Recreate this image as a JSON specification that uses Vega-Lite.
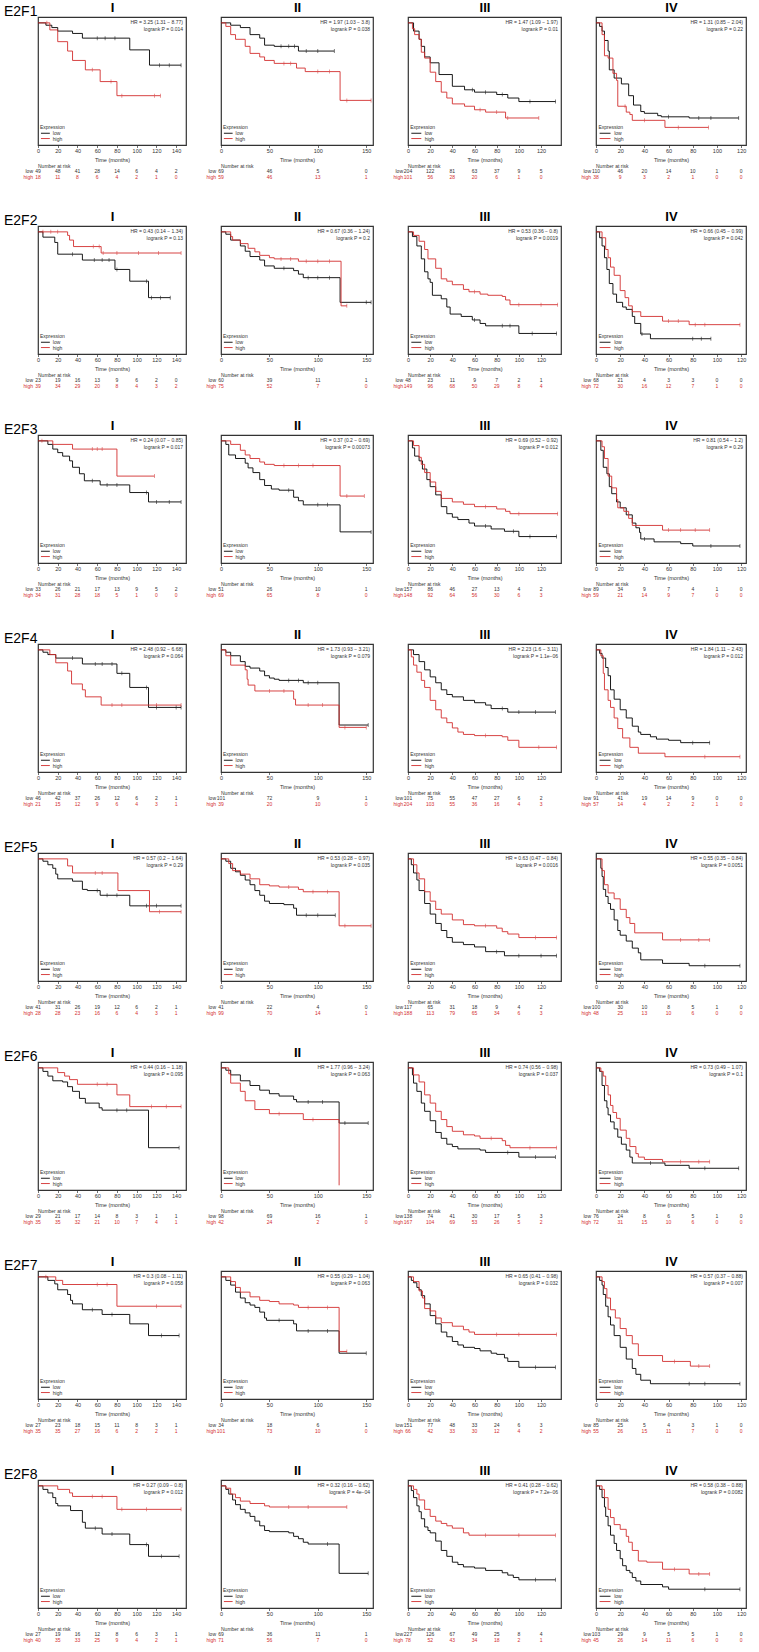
{"$schema":"https://vega.github.io/schema/vega-lite/v6.json","padding":{"left":3,"top":0,"right":0,"bottom":0},"background":"white","spacing":18,
"config":{"font":"Liberation Sans","view":{"stroke":"#333333","strokeWidth":1.2},
"axis":{"grid":false,"domain":false,"tickSize":2.5,"tickColor":"#333","tickWidth":0.7,"labelFontSize":5.5,"labelColor":"#333","labelPadding":1,"labelFlush":false,"titleFontSize":5.5,"titleFontWeight":"normal","titleColor":"#333"},
"axisX":{"titlePadding":3},"axisY":{"labelAngle":-90,"labelAlign":"center","labelBaseline":"bottom","titlePadding":5},
"text":{"fontSize":5,"color":"#333"},"line":{"interpolate":"step-after","strokeWidth":0.9},"tick":{"thickness":0.7,"size":4},"rule":{"strokeWidth":0.9}},
"data":{"values":[
{"g":1,"s":1,"n":"E2F1","hr":"HR = 3.25 (1.31 − 8.77)\nlogrank P = 0.014"},
{"g":1,"s":2,"n":"E2F1","hr":"HR = 1.97 (1.03 − 3.8)\nlogrank P = 0.038"},
{"g":1,"s":3,"n":"E2F1","hr":"HR = 1.47 (1.09 − 1.97)\nlogrank P = 0.01"},
{"g":1,"s":4,"n":"E2F1","hr":"HR = 1.31 (0.85 − 2.04)\nlogrank P = 0.22"},
{"g":2,"s":1,"n":"E2F2","hr":"HR = 0.43 (0.14 − 1.34)\nlogrank P = 0.13"},
{"g":2,"s":2,"n":"E2F2","hr":"HR = 0.67 (0.36 − 1.24)\nlogrank P = 0.2"},
{"g":2,"s":3,"n":"E2F2","hr":"HR = 0.53 (0.36 − 0.8)\nlogrank P = 0.0019"},
{"g":2,"s":4,"n":"E2F2","hr":"HR = 0.66 (0.45 − 0.99)\nlogrank P = 0.042"},
{"g":3,"s":1,"n":"E2F3","hr":"HR = 0.24 (0.07 − 0.85)\nlogrank P = 0.017"},
{"g":3,"s":2,"n":"E2F3","hr":"HR = 0.37 (0.2 − 0.69)\nlogrank P = 0.00073"},
{"g":3,"s":3,"n":"E2F3","hr":"HR = 0.69 (0.52 − 0.92)\nlogrank P = 0.012"},
{"g":3,"s":4,"n":"E2F3","hr":"HR = 0.81 (0.54 − 1.2)\nlogrank P = 0.29"},
{"g":4,"s":1,"n":"E2F4","hr":"HR = 2.48 (0.92 − 6.68)\nlogrank P = 0.064"},
{"g":4,"s":2,"n":"E2F4","hr":"HR = 1.73 (0.93 − 3.21)\nlogrank P = 0.079"},
{"g":4,"s":3,"n":"E2F4","hr":"HR = 2.23 (1.6 − 3.11)\nlogrank P = 1.1e−06"},
{"g":4,"s":4,"n":"E2F4","hr":"HR = 1.84 (1.11 − 2.43)\nlogrank P = 0.012"},
{"g":5,"s":1,"n":"E2F5","hr":"HR = 0.57 (0.2 − 1.64)\nlogrank P = 0.29"},
{"g":5,"s":2,"n":"E2F5","hr":"HR = 0.53 (0.28 − 0.97)\nlogrank P = 0.035"},
{"g":5,"s":3,"n":"E2F5","hr":"HR = 0.63 (0.47 − 0.84)\nlogrank P = 0.0016"},
{"g":5,"s":4,"n":"E2F5","hr":"HR = 0.55 (0.35 − 0.84)\nlogrank P = 0.0051"},
{"g":6,"s":1,"n":"E2F6","hr":"HR = 0.44 (0.16 − 1.18)\nlogrank P = 0.095"},
{"g":6,"s":2,"n":"E2F6","hr":"HR = 1.77 (0.96 − 3.24)\nlogrank P = 0.063"},
{"g":6,"s":3,"n":"E2F6","hr":"HR = 0.74 (0.56 − 0.98)\nlogrank P = 0.037"},
{"g":6,"s":4,"n":"E2F6","hr":"HR = 0.73 (0.49 − 1.07)\nlogrank P = 0.1"},
{"g":7,"s":1,"n":"E2F7","hr":"HR = 0.3 (0.08 − 1.11)\nlogrank P = 0.058"},
{"g":7,"s":2,"n":"E2F7","hr":"HR = 0.55 (0.29 − 1.04)\nlogrank P = 0.063"},
{"g":7,"s":3,"n":"E2F7","hr":"HR = 0.65 (0.41 − 0.98)\nlogrank P = 0.032"},
{"g":7,"s":4,"n":"E2F7","hr":"HR = 0.57 (0.37 − 0.88)\nlogrank P = 0.007"},
{"g":8,"s":1,"n":"E2F8","hr":"HR = 0.27 (0.09 − 0.8)\nlogrank P = 0.012"},
{"g":8,"s":2,"n":"E2F8","hr":"HR = 0.32 (0.16 − 0.62)\nlogrank P = 4e−04"},
{"g":8,"s":3,"n":"E2F8","hr":"HR = 0.41 (0.28 − 0.62)\nlogrank P = 7.2e−06"},
{"g":8,"s":4,"n":"E2F8","hr":"HR = 0.58 (0.38 − 0.88)\nlogrank P = 0.0082"},
{"g":1,"s":1,"t":0,"lo":49,"hi":18},{"g":1,"s":1,"t":20,"lo":48,"hi":11},{"g":1,"s":1,"t":40,"lo":41,"hi":8},{"g":1,"s":1,"t":60,"lo":28,"hi":6},{"g":1,"s":1,"t":80,"lo":14,"hi":4},{"g":1,"s":1,"t":100,"lo":6,"hi":2},{"g":1,"s":1,"t":120,"lo":4,"hi":1},{"g":1,"s":1,"t":140,"lo":2,"hi":0},
{"g":1,"s":2,"t":0,"lo":69,"hi":59},{"g":1,"s":2,"t":50,"lo":46,"hi":46},{"g":1,"s":2,"t":100,"lo":5,"hi":13},{"g":1,"s":2,"t":150,"lo":0,"hi":1},
{"g":1,"s":3,"t":0,"lo":204,"hi":101},{"g":1,"s":3,"t":20,"lo":122,"hi":56},{"g":1,"s":3,"t":40,"lo":81,"hi":28},{"g":1,"s":3,"t":60,"lo":63,"hi":20},{"g":1,"s":3,"t":80,"lo":37,"hi":6},{"g":1,"s":3,"t":100,"lo":9,"hi":1},{"g":1,"s":3,"t":120,"lo":5,"hi":0},
{"g":1,"s":4,"t":0,"lo":110,"hi":38},{"g":1,"s":4,"t":20,"lo":46,"hi":9},{"g":1,"s":4,"t":40,"lo":20,"hi":3},{"g":1,"s":4,"t":60,"lo":14,"hi":2},{"g":1,"s":4,"t":80,"lo":10,"hi":1},{"g":1,"s":4,"t":100,"lo":1,"hi":0},{"g":1,"s":4,"t":120,"lo":0,"hi":0},
{"g":2,"s":1,"t":0,"lo":23,"hi":39},{"g":2,"s":1,"t":20,"lo":19,"hi":34},{"g":2,"s":1,"t":40,"lo":16,"hi":29},{"g":2,"s":1,"t":60,"lo":13,"hi":20},{"g":2,"s":1,"t":80,"lo":9,"hi":8},{"g":2,"s":1,"t":100,"lo":6,"hi":4},{"g":2,"s":1,"t":120,"lo":2,"hi":3},{"g":2,"s":1,"t":140,"lo":0,"hi":2},
{"g":2,"s":2,"t":0,"lo":60,"hi":75},{"g":2,"s":2,"t":50,"lo":39,"hi":52},{"g":2,"s":2,"t":100,"lo":11,"hi":7},{"g":2,"s":2,"t":150,"lo":1,"hi":0},
{"g":2,"s":3,"t":0,"lo":48,"hi":149},{"g":2,"s":3,"t":20,"lo":23,"hi":96},{"g":2,"s":3,"t":40,"lo":11,"hi":68},{"g":2,"s":3,"t":60,"lo":9,"hi":50},{"g":2,"s":3,"t":80,"lo":7,"hi":29},{"g":2,"s":3,"t":100,"lo":2,"hi":8},{"g":2,"s":3,"t":120,"lo":1,"hi":4},
{"g":2,"s":4,"t":0,"lo":68,"hi":72},{"g":2,"s":4,"t":20,"lo":21,"hi":30},{"g":2,"s":4,"t":40,"lo":4,"hi":16},{"g":2,"s":4,"t":60,"lo":3,"hi":12},{"g":2,"s":4,"t":80,"lo":3,"hi":7},{"g":2,"s":4,"t":100,"lo":0,"hi":1},{"g":2,"s":4,"t":120,"lo":0,"hi":0},
{"g":3,"s":1,"t":0,"lo":33,"hi":34},{"g":3,"s":1,"t":20,"lo":26,"hi":31},{"g":3,"s":1,"t":40,"lo":21,"hi":28},{"g":3,"s":1,"t":60,"lo":17,"hi":18},{"g":3,"s":1,"t":80,"lo":13,"hi":5},{"g":3,"s":1,"t":100,"lo":9,"hi":1},{"g":3,"s":1,"t":120,"lo":5,"hi":0},{"g":3,"s":1,"t":140,"lo":2,"hi":0},
{"g":3,"s":2,"t":0,"lo":51,"hi":69},{"g":3,"s":2,"t":50,"lo":26,"hi":65},{"g":3,"s":2,"t":100,"lo":10,"hi":8},{"g":3,"s":2,"t":150,"lo":1,"hi":0},
{"g":3,"s":3,"t":0,"lo":157,"hi":148},{"g":3,"s":3,"t":20,"lo":86,"hi":92},{"g":3,"s":3,"t":40,"lo":46,"hi":64},{"g":3,"s":3,"t":60,"lo":27,"hi":56},{"g":3,"s":3,"t":80,"lo":13,"hi":30},{"g":3,"s":3,"t":100,"lo":4,"hi":6},{"g":3,"s":3,"t":120,"lo":2,"hi":3},
{"g":3,"s":4,"t":0,"lo":89,"hi":59},{"g":3,"s":4,"t":20,"lo":34,"hi":21},{"g":3,"s":4,"t":40,"lo":9,"hi":14},{"g":3,"s":4,"t":60,"lo":7,"hi":9},{"g":3,"s":4,"t":80,"lo":4,"hi":7},{"g":3,"s":4,"t":100,"lo":1,"hi":0},{"g":3,"s":4,"t":120,"lo":0,"hi":0},
{"g":4,"s":1,"t":0,"lo":46,"hi":21},{"g":4,"s":1,"t":20,"lo":42,"hi":15},{"g":4,"s":1,"t":40,"lo":37,"hi":12},{"g":4,"s":1,"t":60,"lo":26,"hi":9},{"g":4,"s":1,"t":80,"lo":12,"hi":6},{"g":4,"s":1,"t":100,"lo":6,"hi":4},{"g":4,"s":1,"t":120,"lo":2,"hi":3},{"g":4,"s":1,"t":140,"lo":1,"hi":1},
{"g":4,"s":2,"t":0,"lo":101,"hi":39},{"g":4,"s":2,"t":50,"lo":72,"hi":20},{"g":4,"s":2,"t":100,"lo":9,"hi":10},{"g":4,"s":2,"t":150,"lo":1,"hi":0},
{"g":4,"s":3,"t":0,"lo":101,"hi":204},{"g":4,"s":3,"t":20,"lo":75,"hi":103},{"g":4,"s":3,"t":40,"lo":55,"hi":55},{"g":4,"s":3,"t":60,"lo":47,"hi":36},{"g":4,"s":3,"t":80,"lo":27,"hi":16},{"g":4,"s":3,"t":100,"lo":6,"hi":4},{"g":4,"s":3,"t":120,"lo":2,"hi":3},
{"g":4,"s":4,"t":0,"lo":91,"hi":57},{"g":4,"s":4,"t":20,"lo":41,"hi":14},{"g":4,"s":4,"t":40,"lo":19,"hi":4},{"g":4,"s":4,"t":60,"lo":14,"hi":2},{"g":4,"s":4,"t":80,"lo":9,"hi":2},{"g":4,"s":4,"t":100,"lo":0,"hi":1},{"g":4,"s":4,"t":120,"lo":0,"hi":0},
{"g":5,"s":1,"t":0,"lo":41,"hi":28},{"g":5,"s":1,"t":20,"lo":31,"hi":28},{"g":5,"s":1,"t":40,"lo":26,"hi":23},{"g":5,"s":1,"t":60,"lo":19,"hi":16},{"g":5,"s":1,"t":80,"lo":12,"hi":6},{"g":5,"s":1,"t":100,"lo":6,"hi":4},{"g":5,"s":1,"t":120,"lo":2,"hi":3},{"g":5,"s":1,"t":140,"lo":1,"hi":1},
{"g":5,"s":2,"t":0,"lo":41,"hi":99},{"g":5,"s":2,"t":50,"lo":22,"hi":70},{"g":5,"s":2,"t":100,"lo":4,"hi":14},{"g":5,"s":2,"t":150,"lo":0,"hi":1},
{"g":5,"s":3,"t":0,"lo":117,"hi":188},{"g":5,"s":3,"t":20,"lo":65,"hi":113},{"g":5,"s":3,"t":40,"lo":31,"hi":79},{"g":5,"s":3,"t":60,"lo":18,"hi":65},{"g":5,"s":3,"t":80,"lo":9,"hi":34},{"g":5,"s":3,"t":100,"lo":4,"hi":6},{"g":5,"s":3,"t":120,"lo":2,"hi":3},
{"g":5,"s":4,"t":0,"lo":100,"hi":48},{"g":5,"s":4,"t":20,"lo":30,"hi":25},{"g":5,"s":4,"t":40,"lo":10,"hi":13},{"g":5,"s":4,"t":60,"lo":8,"hi":10},{"g":5,"s":4,"t":80,"lo":5,"hi":6},{"g":5,"s":4,"t":100,"lo":1,"hi":0},{"g":5,"s":4,"t":120,"lo":0,"hi":0},
{"g":6,"s":1,"t":0,"lo":29,"hi":35},{"g":6,"s":1,"t":20,"lo":21,"hi":35},{"g":6,"s":1,"t":40,"lo":17,"hi":32},{"g":6,"s":1,"t":60,"lo":14,"hi":21},{"g":6,"s":1,"t":80,"lo":8,"hi":10},{"g":6,"s":1,"t":100,"lo":3,"hi":7},{"g":6,"s":1,"t":120,"lo":1,"hi":4},{"g":6,"s":1,"t":140,"lo":1,"hi":1},
{"g":6,"s":2,"t":0,"lo":98,"hi":42},{"g":6,"s":2,"t":50,"lo":69,"hi":24},{"g":6,"s":2,"t":100,"lo":16,"hi":2},{"g":6,"s":2,"t":150,"lo":1,"hi":0},
{"g":6,"s":3,"t":0,"lo":138,"hi":167},{"g":6,"s":3,"t":20,"lo":74,"hi":104},{"g":6,"s":3,"t":40,"lo":41,"hi":69},{"g":6,"s":3,"t":60,"lo":30,"hi":53},{"g":6,"s":3,"t":80,"lo":17,"hi":26},{"g":6,"s":3,"t":100,"lo":5,"hi":5},{"g":6,"s":3,"t":120,"lo":3,"hi":2},
{"g":6,"s":4,"t":0,"lo":76,"hi":72},{"g":6,"s":4,"t":20,"lo":24,"hi":31},{"g":6,"s":4,"t":40,"lo":8,"hi":15},{"g":6,"s":4,"t":60,"lo":6,"hi":10},{"g":6,"s":4,"t":80,"lo":5,"hi":6},{"g":6,"s":4,"t":100,"lo":1,"hi":0},{"g":6,"s":4,"t":120,"lo":0,"hi":0},
{"g":7,"s":1,"t":0,"lo":27,"hi":35},{"g":7,"s":1,"t":20,"lo":23,"hi":35},{"g":7,"s":1,"t":40,"lo":18,"hi":27},{"g":7,"s":1,"t":60,"lo":15,"hi":16},{"g":7,"s":1,"t":80,"lo":11,"hi":6},{"g":7,"s":1,"t":100,"lo":8,"hi":2},{"g":7,"s":1,"t":120,"lo":3,"hi":2},{"g":7,"s":1,"t":140,"lo":1,"hi":1},
{"g":7,"s":2,"t":0,"lo":34,"hi":101},{"g":7,"s":2,"t":50,"lo":18,"hi":73},{"g":7,"s":2,"t":100,"lo":6,"hi":10},{"g":7,"s":2,"t":150,"lo":1,"hi":0},
{"g":7,"s":3,"t":0,"lo":151,"hi":66},{"g":7,"s":3,"t":20,"lo":77,"hi":42},{"g":7,"s":3,"t":40,"lo":48,"hi":33},{"g":7,"s":3,"t":60,"lo":33,"hi":30},{"g":7,"s":3,"t":80,"lo":24,"hi":12},{"g":7,"s":3,"t":100,"lo":6,"hi":4},{"g":7,"s":3,"t":120,"lo":3,"hi":2},
{"g":7,"s":4,"t":0,"lo":85,"hi":55},{"g":7,"s":4,"t":20,"lo":25,"hi":26},{"g":7,"s":4,"t":40,"lo":5,"hi":15},{"g":7,"s":4,"t":60,"lo":4,"hi":11},{"g":7,"s":4,"t":80,"lo":3,"hi":7},{"g":7,"s":4,"t":100,"lo":1,"hi":0},{"g":7,"s":4,"t":120,"lo":0,"hi":0},
{"g":8,"s":1,"t":0,"lo":27,"hi":40},{"g":8,"s":1,"t":20,"lo":19,"hi":35},{"g":8,"s":1,"t":40,"lo":16,"hi":33},{"g":8,"s":1,"t":60,"lo":12,"hi":25},{"g":8,"s":1,"t":80,"lo":8,"hi":9},{"g":8,"s":1,"t":100,"lo":6,"hi":4},{"g":8,"s":1,"t":120,"lo":3,"hi":2},{"g":8,"s":1,"t":140,"lo":1,"hi":1},
{"g":8,"s":2,"t":0,"lo":69,"hi":71},{"g":8,"s":2,"t":50,"lo":36,"hi":56},{"g":8,"s":2,"t":100,"lo":11,"hi":7},{"g":8,"s":2,"t":150,"lo":1,"hi":0},
{"g":8,"s":3,"t":0,"lo":227,"hi":78},{"g":8,"s":3,"t":20,"lo":126,"hi":52},{"g":8,"s":3,"t":40,"lo":67,"hi":43},{"g":8,"s":3,"t":60,"lo":49,"hi":34},{"g":8,"s":3,"t":80,"lo":25,"hi":18},{"g":8,"s":3,"t":100,"lo":8,"hi":2},{"g":8,"s":3,"t":120,"lo":4,"hi":1},
{"g":8,"s":4,"t":0,"lo":103,"hi":45},{"g":8,"s":4,"t":20,"lo":29,"hi":26},{"g":8,"s":4,"t":40,"lo":9,"hi":14},{"g":8,"s":4,"t":60,"lo":5,"hi":11},{"g":8,"s":4,"t":80,"lo":5,"hi":6},{"g":8,"s":4,"t":100,"lo":1,"hi":0},{"g":8,"s":4,"t":120,"lo":0,"hi":0},

{"g":1,"s":1,"e":"low","t":0,"p":1},{"g":1,"s":1,"e":"low","t":8,"p":0.98},{"g":1,"s":1,"e":"low","t":14,"p":0.96},{"g":1,"s":1,"e":"low","t":20,"p":0.93},{"g":1,"s":1,"e":"low","t":35,"p":0.91},{"g":1,"s":1,"e":"low","t":45,"p":0.87},{"g":1,"s":1,"e":"low","t":60,"p":0.87,"c":1},{"g":1,"s":1,"e":"low","t":68,"p":0.87,"c":1},{"g":1,"s":1,"e":"low","t":78,"p":0.87,"c":1},{"g":1,"s":1,"e":"low","t":93,"p":0.77},{"g":1,"s":1,"e":"low","t":113,"p":0.64},{"g":1,"s":1,"e":"low","t":123,"p":0.64,"c":1},{"g":1,"s":1,"e":"low","t":133,"p":0.64,"c":1},{"g":1,"s":1,"e":"low","t":145,"p":0.64,"c":1},
{"g":1,"s":1,"e":"high","t":0,"p":1},{"g":1,"s":1,"e":"high","t":9,"p":1,"c":1},{"g":1,"s":1,"e":"high","t":12,"p":0.94},{"g":1,"s":1,"e":"high","t":20,"p":0.84},{"g":1,"s":1,"e":"high","t":30,"p":0.76},{"g":1,"s":1,"e":"high","t":35,"p":0.68},{"g":1,"s":1,"e":"high","t":48,"p":0.6},{"g":1,"s":1,"e":"high","t":55,"p":0.6,"c":1},{"g":1,"s":1,"e":"high","t":63,"p":0.5},{"g":1,"s":1,"e":"high","t":74,"p":0.5,"c":1},{"g":1,"s":1,"e":"high","t":80,"p":0.38},{"g":1,"s":1,"e":"high","t":85,"p":0.38,"c":1},{"g":1,"s":1,"e":"high","t":118,"p":0.38,"c":1},{"g":1,"s":1,"e":"high","t":124,"p":0.38,"c":1},
{"g":1,"s":2,"e":"low","t":0,"p":1},{"g":1,"s":2,"e":"low","t":10,"p":0.98},{"g":1,"s":2,"e":"low","t":20,"p":0.96},{"g":1,"s":2,"e":"low","t":30,"p":0.9},{"g":1,"s":2,"e":"low","t":40,"p":0.87},{"g":1,"s":2,"e":"low","t":45,"p":0.81},{"g":1,"s":2,"e":"low","t":55,"p":0.8},{"g":1,"s":2,"e":"low","t":62,"p":0.8,"c":1},{"g":1,"s":2,"e":"low","t":70,"p":0.8,"c":1},{"g":1,"s":2,"e":"low","t":76,"p":0.8,"c":1},{"g":1,"s":2,"e":"low","t":80,"p":0.76},{"g":1,"s":2,"e":"low","t":88,"p":0.76,"c":1},{"g":1,"s":2,"e":"low","t":100,"p":0.76,"c":1},{"g":1,"s":2,"e":"low","t":117,"p":0.76,"c":1},
{"g":1,"s":2,"e":"high","t":0,"p":1},{"g":1,"s":2,"e":"high","t":5,"p":0.97},{"g":1,"s":2,"e":"high","t":10,"p":0.9},{"g":1,"s":2,"e":"high","t":15,"p":0.86},{"g":1,"s":2,"e":"high","t":25,"p":0.8},{"g":1,"s":2,"e":"high","t":30,"p":0.74},{"g":1,"s":2,"e":"high","t":40,"p":0.71},{"g":1,"s":2,"e":"high","t":45,"p":0.68},{"g":1,"s":2,"e":"high","t":55,"p":0.655},{"g":1,"s":2,"e":"high","t":65,"p":0.655,"c":1},{"g":1,"s":2,"e":"high","t":72,"p":0.655,"c":1},{"g":1,"s":2,"e":"high","t":78,"p":0.615},{"g":1,"s":2,"e":"high","t":87,"p":0.585},{"g":1,"s":2,"e":"high","t":100,"p":0.585,"c":1},{"g":1,"s":2,"e":"high","t":112,"p":0.585,"c":1},{"g":1,"s":2,"e":"high","t":123,"p":0.34},{"g":1,"s":2,"e":"high","t":130,"p":0.34,"c":1},{"g":1,"s":2,"e":"high","t":155,"p":0.34,"c":1},
{"g":1,"s":3,"e":"low","t":0,"p":1},{"g":1,"s":3,"e":"low","t":5,"p":0.93},{"g":1,"s":3,"e":"low","t":10,"p":0.86},{"g":1,"s":3,"e":"low","t":12,"p":0.8},{"g":1,"s":3,"e":"low","t":15,"p":0.71},{"g":1,"s":3,"e":"low","t":20,"p":0.66},{"g":1,"s":3,"e":"low","t":28,"p":0.56},{"g":1,"s":3,"e":"low","t":40,"p":0.46},{"g":1,"s":3,"e":"low","t":51,"p":0.43},{"g":1,"s":3,"e":"low","t":58,"p":0.43,"c":1},{"g":1,"s":3,"e":"low","t":60,"p":0.41},{"g":1,"s":3,"e":"low","t":70,"p":0.41,"c":1},{"g":1,"s":3,"e":"low","t":80,"p":0.39},{"g":1,"s":3,"e":"low","t":85,"p":0.39,"c":1},{"g":1,"s":3,"e":"low","t":90,"p":0.36},{"g":1,"s":3,"e":"low","t":100,"p":0.33},{"g":1,"s":3,"e":"low","t":110,"p":0.33,"c":1},{"g":1,"s":3,"e":"low","t":133,"p":0.33,"c":1},
{"g":1,"s":3,"e":"high","t":0,"p":1},{"g":1,"s":3,"e":"high","t":4,"p":0.95},{"g":1,"s":3,"e":"high","t":6,"p":0.9},{"g":1,"s":3,"e":"high","t":10,"p":0.86},{"g":1,"s":3,"e":"high","t":12,"p":0.75},{"g":1,"s":3,"e":"high","t":15,"p":0.7},{"g":1,"s":3,"e":"high","t":20,"p":0.58},{"g":1,"s":3,"e":"high","t":25,"p":0.5},{"g":1,"s":3,"e":"high","t":30,"p":0.41},{"g":1,"s":3,"e":"high","t":35,"p":0.36},{"g":1,"s":3,"e":"high","t":40,"p":0.31},{"g":1,"s":3,"e":"high","t":51,"p":0.29},{"g":1,"s":3,"e":"high","t":60,"p":0.26},{"g":1,"s":3,"e":"high","t":65,"p":0.26,"c":1},{"g":1,"s":3,"e":"high","t":70,"p":0.24},{"g":1,"s":3,"e":"high","t":80,"p":0.24,"c":1},{"g":1,"s":3,"e":"high","t":88,"p":0.19},{"g":1,"s":3,"e":"high","t":90,"p":0.19,"c":1},{"g":1,"s":3,"e":"high","t":118,"p":0.19,"c":1},
{"g":1,"s":4,"e":"low","t":0,"p":1},{"g":1,"s":4,"e":"low","t":3,"p":0.97},{"g":1,"s":4,"e":"low","t":5,"p":0.93},{"g":1,"s":4,"e":"low","t":7,"p":0.85},{"g":1,"s":4,"e":"low","t":10,"p":0.76},{"g":1,"s":4,"e":"low","t":11,"p":0.6},{"g":1,"s":4,"e":"low","t":15,"p":0.53},{"g":1,"s":4,"e":"low","t":21,"p":0.48},{"g":1,"s":4,"e":"low","t":27,"p":0.38},{"g":1,"s":4,"e":"low","t":31,"p":0.3},{"g":1,"s":4,"e":"low","t":37,"p":0.245},{"g":1,"s":4,"e":"low","t":40,"p":0.23},{"g":1,"s":4,"e":"low","t":51,"p":0.21},{"g":1,"s":4,"e":"low","t":54,"p":0.2},{"g":1,"s":4,"e":"low","t":60,"p":0.2,"c":1},{"g":1,"s":4,"e":"low","t":77,"p":0.19},{"g":1,"s":4,"e":"low","t":85,"p":0.19,"c":1},{"g":1,"s":4,"e":"low","t":95,"p":0.19,"c":1},{"g":1,"s":4,"e":"low","t":118,"p":0.19,"c":1},
{"g":1,"s":4,"e":"high","t":0,"p":1},{"g":1,"s":4,"e":"high","t":5,"p":0.9},{"g":1,"s":4,"e":"high","t":7,"p":0.72},{"g":1,"s":4,"e":"high","t":10,"p":0.7},{"g":1,"s":4,"e":"high","t":14,"p":0.57},{"g":1,"s":4,"e":"high","t":17,"p":0.51},{"g":1,"s":4,"e":"high","t":18,"p":0.29},{"g":1,"s":4,"e":"high","t":24,"p":0.29,"c":1},{"g":1,"s":4,"e":"high","t":25,"p":0.24},{"g":1,"s":4,"e":"high","t":28,"p":0.22},{"g":1,"s":4,"e":"high","t":30,"p":0.17},{"g":1,"s":4,"e":"high","t":40,"p":0.17,"c":1},{"g":1,"s":4,"e":"high","t":57,"p":0.11},{"g":1,"s":4,"e":"high","t":68,"p":0.11,"c":1},{"g":1,"s":4,"e":"high","t":93,"p":0.11,"c":1},

{"g":2,"s":1,"e":"low","t":0,"p":1},{"g":2,"s":1,"e":"low","t":5,"p":0.955},{"g":2,"s":1,"e":"low","t":17,"p":0.91},{"g":2,"s":1,"e":"low","t":20,"p":0.81},{"g":2,"s":1,"e":"low","t":35,"p":0.81,"c":1},{"g":2,"s":1,"e":"low","t":45,"p":0.76},{"g":2,"s":1,"e":"low","t":57,"p":0.76,"c":1},{"g":2,"s":1,"e":"low","t":65,"p":0.76,"c":1},{"g":2,"s":1,"e":"low","t":72,"p":0.76,"c":1},{"g":2,"s":1,"e":"low","t":78,"p":0.68},{"g":2,"s":1,"e":"low","t":80,"p":0.68,"c":1},{"g":2,"s":1,"e":"low","t":93,"p":0.58},{"g":2,"s":1,"e":"low","t":110,"p":0.58,"c":1},{"g":2,"s":1,"e":"low","t":112,"p":0.44},{"g":2,"s":1,"e":"low","t":115,"p":0.44,"c":1},{"g":2,"s":1,"e":"low","t":124,"p":0.44,"c":1},{"g":2,"s":1,"e":"low","t":134,"p":0.44,"c":1},
{"g":2,"s":1,"e":"high","t":0,"p":1},{"g":2,"s":1,"e":"high","t":5,"p":1,"c":1},{"g":2,"s":1,"e":"high","t":13,"p":1,"c":1},{"g":2,"s":1,"e":"high","t":20,"p":1,"c":1},{"g":2,"s":1,"e":"high","t":30,"p":0.97},{"g":2,"s":1,"e":"high","t":32,"p":0.93},{"g":2,"s":1,"e":"high","t":36,"p":0.875},{"g":2,"s":1,"e":"high","t":56,"p":0.875,"c":1},{"g":2,"s":1,"e":"high","t":62,"p":0.875,"c":1},{"g":2,"s":1,"e":"high","t":64,"p":0.82},{"g":2,"s":1,"e":"high","t":66,"p":0.82,"c":1},{"g":2,"s":1,"e":"high","t":80,"p":0.82,"c":1},{"g":2,"s":1,"e":"high","t":102,"p":0.82,"c":1},{"g":2,"s":1,"e":"high","t":122,"p":0.82,"c":1},{"g":2,"s":1,"e":"high","t":145,"p":0.82,"c":1},
{"g":2,"s":2,"e":"low","t":0,"p":1},{"g":2,"s":2,"e":"low","t":5,"p":0.98},{"g":2,"s":2,"e":"low","t":10,"p":0.93},{"g":2,"s":2,"e":"low","t":20,"p":0.88},{"g":2,"s":2,"e":"low","t":25,"p":0.835},{"g":2,"s":2,"e":"low","t":30,"p":0.79},{"g":2,"s":2,"e":"low","t":40,"p":0.76},{"g":2,"s":2,"e":"low","t":45,"p":0.71},{"g":2,"s":2,"e":"low","t":55,"p":0.69},{"g":2,"s":2,"e":"low","t":65,"p":0.69,"c":1},{"g":2,"s":2,"e":"low","t":75,"p":0.67},{"g":2,"s":2,"e":"low","t":80,"p":0.64},{"g":2,"s":2,"e":"low","t":85,"p":0.61},{"g":2,"s":2,"e":"low","t":90,"p":0.61,"c":1},{"g":2,"s":2,"e":"low","t":100,"p":0.61,"c":1},{"g":2,"s":2,"e":"low","t":112,"p":0.61,"c":1},{"g":2,"s":2,"e":"low","t":123,"p":0.4},{"g":2,"s":2,"e":"low","t":150,"p":0.4,"c":1},{"g":2,"s":2,"e":"low","t":155,"p":0.4,"c":1},
{"g":2,"s":2,"e":"high","t":0,"p":1},{"g":2,"s":2,"e":"high","t":10,"p":0.96},{"g":2,"s":2,"e":"high","t":12,"p":0.93},{"g":2,"s":2,"e":"high","t":20,"p":0.9},{"g":2,"s":2,"e":"high","t":28,"p":0.86},{"g":2,"s":2,"e":"high","t":35,"p":0.83},{"g":2,"s":2,"e":"high","t":40,"p":0.8},{"g":2,"s":2,"e":"high","t":50,"p":0.78},{"g":2,"s":2,"e":"high","t":55,"p":0.77},{"g":2,"s":2,"e":"high","t":62,"p":0.77,"c":1},{"g":2,"s":2,"e":"high","t":72,"p":0.77,"c":1},{"g":2,"s":2,"e":"high","t":80,"p":0.75},{"g":2,"s":2,"e":"high","t":88,"p":0.75,"c":1},{"g":2,"s":2,"e":"high","t":100,"p":0.75,"c":1},{"g":2,"s":2,"e":"high","t":112,"p":0.75,"c":1},{"g":2,"s":2,"e":"high","t":124,"p":0.37},{"g":2,"s":2,"e":"high","t":130,"p":0.37,"c":1},
{"g":2,"s":3,"e":"low","t":0,"p":1},{"g":2,"s":3,"e":"low","t":4,"p":0.96},{"g":2,"s":3,"e":"low","t":8,"p":0.88},{"g":2,"s":3,"e":"low","t":12,"p":0.77},{"g":2,"s":3,"e":"low","t":15,"p":0.66},{"g":2,"s":3,"e":"low","t":18,"p":0.6},{"g":2,"s":3,"e":"low","t":20,"p":0.57},{"g":2,"s":3,"e":"low","t":22,"p":0.46},{"g":2,"s":3,"e":"low","t":30,"p":0.43},{"g":2,"s":3,"e":"low","t":35,"p":0.36},{"g":2,"s":3,"e":"low","t":38,"p":0.3},{"g":2,"s":3,"e":"low","t":48,"p":0.28},{"g":2,"s":3,"e":"low","t":58,"p":0.25},{"g":2,"s":3,"e":"low","t":60,"p":0.25,"c":1},{"g":2,"s":3,"e":"low","t":65,"p":0.22},{"g":2,"s":3,"e":"low","t":70,"p":0.2},{"g":2,"s":3,"e":"low","t":85,"p":0.2,"c":1},{"g":2,"s":3,"e":"low","t":92,"p":0.2,"c":1},{"g":2,"s":3,"e":"low","t":100,"p":0.135},{"g":2,"s":3,"e":"low","t":112,"p":0.135,"c":1},{"g":2,"s":3,"e":"low","t":134,"p":0.135,"c":1},
{"g":2,"s":3,"e":"high","t":0,"p":1},{"g":2,"s":3,"e":"high","t":5,"p":0.97},{"g":2,"s":3,"e":"high","t":10,"p":0.92},{"g":2,"s":3,"e":"high","t":15,"p":0.85},{"g":2,"s":3,"e":"high","t":18,"p":0.77},{"g":2,"s":3,"e":"high","t":25,"p":0.69},{"g":2,"s":3,"e":"high","t":30,"p":0.6},{"g":2,"s":3,"e":"high","t":35,"p":0.58},{"g":2,"s":3,"e":"high","t":40,"p":0.55},{"g":2,"s":3,"e":"high","t":50,"p":0.51},{"g":2,"s":3,"e":"high","t":55,"p":0.49},{"g":2,"s":3,"e":"high","t":60,"p":0.49,"c":1},{"g":2,"s":3,"e":"high","t":65,"p":0.47},{"g":2,"s":3,"e":"high","t":72,"p":0.46},{"g":2,"s":3,"e":"high","t":85,"p":0.45},{"g":2,"s":3,"e":"high","t":88,"p":0.42},{"g":2,"s":3,"e":"high","t":92,"p":0.38},{"g":2,"s":3,"e":"high","t":100,"p":0.38,"c":1},{"g":2,"s":3,"e":"high","t":120,"p":0.38,"c":1},{"g":2,"s":3,"e":"high","t":135,"p":0.38,"c":1},
{"g":2,"s":4,"e":"low","t":0,"p":1},{"g":2,"s":4,"e":"low","t":3,"p":0.95},{"g":2,"s":4,"e":"low","t":5,"p":0.88},{"g":2,"s":4,"e":"low","t":7,"p":0.78},{"g":2,"s":4,"e":"low","t":9,"p":0.68},{"g":2,"s":4,"e":"low","t":11,"p":0.56},{"g":2,"s":4,"e":"low","t":14,"p":0.47},{"g":2,"s":4,"e":"low","t":17,"p":0.4},{"g":2,"s":4,"e":"low","t":22,"p":0.36},{"g":2,"s":4,"e":"low","t":25,"p":0.34},{"g":2,"s":4,"e":"low","t":30,"p":0.28},{"g":2,"s":4,"e":"low","t":32,"p":0.22},{"g":2,"s":4,"e":"low","t":37,"p":0.13},{"g":2,"s":4,"e":"low","t":38,"p":0.13,"c":1},{"g":2,"s":4,"e":"low","t":45,"p":0.09},{"g":2,"s":4,"e":"low","t":80,"p":0.09,"c":1},{"g":2,"s":4,"e":"low","t":87,"p":0.09,"c":1},{"g":2,"s":4,"e":"low","t":95,"p":0.09,"c":1},
{"g":2,"s":4,"e":"high","t":0,"p":1},{"g":2,"s":4,"e":"high","t":5,"p":0.95},{"g":2,"s":4,"e":"high","t":8,"p":0.85},{"g":2,"s":4,"e":"high","t":10,"p":0.78},{"g":2,"s":4,"e":"high","t":12,"p":0.7},{"g":2,"s":4,"e":"high","t":15,"p":0.63},{"g":2,"s":4,"e":"high","t":20,"p":0.5},{"g":2,"s":4,"e":"high","t":24,"p":0.44},{"g":2,"s":4,"e":"high","t":27,"p":0.37},{"g":2,"s":4,"e":"high","t":30,"p":0.32},{"g":2,"s":4,"e":"high","t":37,"p":0.28},{"g":2,"s":4,"e":"high","t":55,"p":0.24},{"g":2,"s":4,"e":"high","t":60,"p":0.24,"c":1},{"g":2,"s":4,"e":"high","t":68,"p":0.24,"c":1},{"g":2,"s":4,"e":"high","t":77,"p":0.21},{"g":2,"s":4,"e":"high","t":82,"p":0.21,"c":1},{"g":2,"s":4,"e":"high","t":90,"p":0.21,"c":1},{"g":2,"s":4,"e":"high","t":119,"p":0.21,"c":1},

{"g":3,"s":1,"e":"low","t":0,"p":1},{"g":3,"s":1,"e":"low","t":10,"p":0.97},{"g":3,"s":1,"e":"low","t":15,"p":0.93},{"g":3,"s":1,"e":"low","t":20,"p":0.9},{"g":3,"s":1,"e":"low","t":25,"p":0.87},{"g":3,"s":1,"e":"low","t":32,"p":0.83},{"g":3,"s":1,"e":"low","t":35,"p":0.775},{"g":3,"s":1,"e":"low","t":42,"p":0.72},{"g":3,"s":1,"e":"low","t":47,"p":0.66},{"g":3,"s":1,"e":"low","t":55,"p":0.66,"c":1},{"g":3,"s":1,"e":"low","t":63,"p":0.625},{"g":3,"s":1,"e":"low","t":70,"p":0.625,"c":1},{"g":3,"s":1,"e":"low","t":80,"p":0.625,"c":1},{"g":3,"s":1,"e":"low","t":93,"p":0.56},{"g":3,"s":1,"e":"low","t":110,"p":0.56,"c":1},{"g":3,"s":1,"e":"low","t":112,"p":0.48},{"g":3,"s":1,"e":"low","t":120,"p":0.48,"c":1},{"g":3,"s":1,"e":"low","t":133,"p":0.48,"c":1},{"g":3,"s":1,"e":"low","t":145,"p":0.48,"c":1},
{"g":3,"s":1,"e":"high","t":0,"p":1},{"g":3,"s":1,"e":"high","t":4,"p":1,"c":1},{"g":3,"s":1,"e":"high","t":15,"p":0.97},{"g":3,"s":1,"e":"high","t":35,"p":0.93},{"g":3,"s":1,"e":"high","t":55,"p":0.93,"c":1},{"g":3,"s":1,"e":"high","t":60,"p":0.93,"c":1},{"g":3,"s":1,"e":"high","t":65,"p":0.93,"c":1},{"g":3,"s":1,"e":"high","t":80,"p":0.7},{"g":3,"s":1,"e":"high","t":118,"p":0.7,"c":1},
{"g":3,"s":2,"e":"low","t":0,"p":1},{"g":3,"s":2,"e":"low","t":5,"p":0.97},{"g":3,"s":2,"e":"low","t":8,"p":0.88},{"g":3,"s":2,"e":"low","t":15,"p":0.85},{"g":3,"s":2,"e":"low","t":25,"p":0.81},{"g":3,"s":2,"e":"low","t":28,"p":0.77},{"g":3,"s":2,"e":"low","t":33,"p":0.73},{"g":3,"s":2,"e":"low","t":40,"p":0.67},{"g":3,"s":2,"e":"low","t":45,"p":0.62},{"g":3,"s":2,"e":"low","t":52,"p":0.59},{"g":3,"s":2,"e":"low","t":60,"p":0.58},{"g":3,"s":2,"e":"low","t":70,"p":0.58,"c":1},{"g":3,"s":2,"e":"low","t":75,"p":0.52},{"g":3,"s":2,"e":"low","t":80,"p":0.49},{"g":3,"s":2,"e":"low","t":85,"p":0.455},{"g":3,"s":2,"e":"low","t":100,"p":0.455,"c":1},{"g":3,"s":2,"e":"low","t":110,"p":0.455,"c":1},{"g":3,"s":2,"e":"low","t":123,"p":0.225},{"g":3,"s":2,"e":"low","t":155,"p":0.225,"c":1},
{"g":3,"s":2,"e":"high","t":0,"p":1},{"g":3,"s":2,"e":"high","t":10,"p":0.97},{"g":3,"s":2,"e":"high","t":20,"p":0.92},{"g":3,"s":2,"e":"high","t":25,"p":0.88},{"g":3,"s":2,"e":"high","t":30,"p":0.85},{"g":3,"s":2,"e":"high","t":40,"p":0.82},{"g":3,"s":2,"e":"high","t":45,"p":0.8},{"g":3,"s":2,"e":"high","t":55,"p":0.79},{"g":3,"s":2,"e":"high","t":65,"p":0.79,"c":1},{"g":3,"s":2,"e":"high","t":80,"p":0.79,"c":1},{"g":3,"s":2,"e":"high","t":95,"p":0.79,"c":1},{"g":3,"s":2,"e":"high","t":123,"p":0.53},{"g":3,"s":2,"e":"high","t":130,"p":0.53,"c":1},{"g":3,"s":2,"e":"high","t":148,"p":0.53,"c":1},
{"g":3,"s":3,"e":"low","t":0,"p":1},{"g":3,"s":3,"e":"low","t":4,"p":0.94},{"g":3,"s":3,"e":"low","t":6,"p":0.87},{"g":3,"s":3,"e":"low","t":10,"p":0.83},{"g":3,"s":3,"e":"low","t":13,"p":0.76},{"g":3,"s":3,"e":"low","t":17,"p":0.67},{"g":3,"s":3,"e":"low","t":20,"p":0.61},{"g":3,"s":3,"e":"low","t":25,"p":0.54},{"g":3,"s":3,"e":"low","t":30,"p":0.44},{"g":3,"s":3,"e":"low","t":35,"p":0.38},{"g":3,"s":3,"e":"low","t":40,"p":0.35},{"g":3,"s":3,"e":"low","t":45,"p":0.33},{"g":3,"s":3,"e":"low","t":55,"p":0.3},{"g":3,"s":3,"e":"low","t":60,"p":0.275},{"g":3,"s":3,"e":"low","t":70,"p":0.275,"c":1},{"g":3,"s":3,"e":"low","t":75,"p":0.25},{"g":3,"s":3,"e":"low","t":87,"p":0.23},{"g":3,"s":3,"e":"low","t":95,"p":0.23,"c":1},{"g":3,"s":3,"e":"low","t":100,"p":0.185},{"g":3,"s":3,"e":"low","t":110,"p":0.185,"c":1},{"g":3,"s":3,"e":"low","t":134,"p":0.185,"c":1},
{"g":3,"s":3,"e":"high","t":0,"p":1},{"g":3,"s":3,"e":"high","t":5,"p":0.96},{"g":3,"s":3,"e":"high","t":10,"p":0.86},{"g":3,"s":3,"e":"high","t":12,"p":0.8},{"g":3,"s":3,"e":"high","t":15,"p":0.73},{"g":3,"s":3,"e":"high","t":20,"p":0.65},{"g":3,"s":3,"e":"high","t":25,"p":0.57},{"g":3,"s":3,"e":"high","t":30,"p":0.51},{"g":3,"s":3,"e":"high","t":40,"p":0.48},{"g":3,"s":3,"e":"high","t":50,"p":0.46},{"g":3,"s":3,"e":"high","t":60,"p":0.44},{"g":3,"s":3,"e":"high","t":70,"p":0.44,"c":1},{"g":3,"s":3,"e":"high","t":80,"p":0.42},{"g":3,"s":3,"e":"high","t":88,"p":0.4},{"g":3,"s":3,"e":"high","t":92,"p":0.38},{"g":3,"s":3,"e":"high","t":100,"p":0.38,"c":1},{"g":3,"s":3,"e":"high","t":135,"p":0.38,"c":1},
{"g":3,"s":4,"e":"low","t":0,"p":1},{"g":3,"s":4,"e":"low","t":4,"p":0.92},{"g":3,"s":4,"e":"low","t":6,"p":0.775},{"g":3,"s":4,"e":"low","t":9,"p":0.72},{"g":3,"s":4,"e":"low","t":11,"p":0.61},{"g":3,"s":4,"e":"low","t":13,"p":0.55},{"g":3,"s":4,"e":"low","t":17,"p":0.48},{"g":3,"s":4,"e":"low","t":20,"p":0.43},{"g":3,"s":4,"e":"low","t":25,"p":0.37},{"g":3,"s":4,"e":"low","t":30,"p":0.3},{"g":3,"s":4,"e":"low","t":33,"p":0.26},{"g":3,"s":4,"e":"low","t":36,"p":0.22},{"g":3,"s":4,"e":"low","t":37,"p":0.165},{"g":3,"s":4,"e":"low","t":40,"p":0.165,"c":1},{"g":3,"s":4,"e":"low","t":48,"p":0.14},{"g":3,"s":4,"e":"low","t":70,"p":0.125},{"g":3,"s":4,"e":"low","t":80,"p":0.105},{"g":3,"s":4,"e":"low","t":95,"p":0.105,"c":1},{"g":3,"s":4,"e":"low","t":119,"p":0.105,"c":1},
{"g":3,"s":4,"e":"high","t":0,"p":1},{"g":3,"s":4,"e":"high","t":5,"p":0.95},{"g":3,"s":4,"e":"high","t":7,"p":0.85},{"g":3,"s":4,"e":"high","t":10,"p":0.7},{"g":3,"s":4,"e":"high","t":13,"p":0.6},{"g":3,"s":4,"e":"high","t":17,"p":0.5},{"g":3,"s":4,"e":"high","t":18,"p":0.43},{"g":3,"s":4,"e":"high","t":23,"p":0.4},{"g":3,"s":4,"e":"high","t":27,"p":0.34},{"g":3,"s":4,"e":"high","t":30,"p":0.28},{"g":3,"s":4,"e":"high","t":55,"p":0.24},{"g":3,"s":4,"e":"high","t":60,"p":0.24,"c":1},{"g":3,"s":4,"e":"high","t":70,"p":0.24,"c":1},{"g":3,"s":4,"e":"high","t":82,"p":0.24,"c":1},{"g":3,"s":4,"e":"high","t":94,"p":0.24,"c":1},

{"g":4,"s":1,"e":"low","t":0,"p":1},{"g":4,"s":1,"e":"low","t":5,"p":0.98},{"g":4,"s":1,"e":"low","t":10,"p":0.96},{"g":4,"s":1,"e":"low","t":18,"p":0.93},{"g":4,"s":1,"e":"low","t":35,"p":0.93,"c":1},{"g":4,"s":1,"e":"low","t":45,"p":0.88},{"g":4,"s":1,"e":"low","t":58,"p":0.88,"c":1},{"g":4,"s":1,"e":"low","t":65,"p":0.88,"c":1},{"g":4,"s":1,"e":"low","t":75,"p":0.88,"c":1},{"g":4,"s":1,"e":"low","t":80,"p":0.8},{"g":4,"s":1,"e":"low","t":85,"p":0.8,"c":1},{"g":4,"s":1,"e":"low","t":93,"p":0.68},{"g":4,"s":1,"e":"low","t":110,"p":0.68,"c":1},{"g":4,"s":1,"e":"low","t":112,"p":0.51},{"g":4,"s":1,"e":"low","t":120,"p":0.51,"c":1},{"g":4,"s":1,"e":"low","t":140,"p":0.51,"c":1},{"g":4,"s":1,"e":"low","t":145,"p":0.51,"c":1},
{"g":4,"s":1,"e":"high","t":0,"p":1},{"g":4,"s":1,"e":"high","t":12,"p":0.96},{"g":4,"s":1,"e":"high","t":18,"p":0.89},{"g":4,"s":1,"e":"high","t":30,"p":0.82},{"g":4,"s":1,"e":"high","t":34,"p":0.71},{"g":4,"s":1,"e":"high","t":45,"p":0.66},{"g":4,"s":1,"e":"high","t":48,"p":0.6},{"g":4,"s":1,"e":"high","t":64,"p":0.53},{"g":4,"s":1,"e":"high","t":75,"p":0.53,"c":1},{"g":4,"s":1,"e":"high","t":85,"p":0.53,"c":1},{"g":4,"s":1,"e":"high","t":120,"p":0.53,"c":1},{"g":4,"s":1,"e":"high","t":145,"p":0.53,"c":1},
{"g":4,"s":2,"e":"low","t":0,"p":1},{"g":4,"s":2,"e":"low","t":5,"p":0.98},{"g":4,"s":2,"e":"low","t":10,"p":0.95},{"g":4,"s":2,"e":"low","t":20,"p":0.9},{"g":4,"s":2,"e":"low","t":25,"p":0.86},{"g":4,"s":2,"e":"low","t":30,"p":0.845},{"g":4,"s":2,"e":"low","t":40,"p":0.82},{"g":4,"s":2,"e":"low","t":45,"p":0.78},{"g":4,"s":2,"e":"low","t":50,"p":0.76},{"g":4,"s":2,"e":"low","t":55,"p":0.75},{"g":4,"s":2,"e":"low","t":60,"p":0.74},{"g":4,"s":2,"e":"low","t":70,"p":0.74,"c":1},{"g":4,"s":2,"e":"low","t":80,"p":0.74,"c":1},{"g":4,"s":2,"e":"low","t":85,"p":0.72},{"g":4,"s":2,"e":"low","t":90,"p":0.72,"c":1},{"g":4,"s":2,"e":"low","t":100,"p":0.72,"c":1},{"g":4,"s":2,"e":"low","t":122,"p":0.36},{"g":4,"s":2,"e":"low","t":152,"p":0.36,"c":1},
{"g":4,"s":2,"e":"high","t":0,"p":1},{"g":4,"s":2,"e":"high","t":5,"p":0.95},{"g":4,"s":2,"e":"high","t":10,"p":0.87},{"g":4,"s":2,"e":"high","t":25,"p":0.83},{"g":4,"s":2,"e":"high","t":27,"p":0.75},{"g":4,"s":2,"e":"high","t":28,"p":0.7},{"g":4,"s":2,"e":"high","t":35,"p":0.65},{"g":4,"s":2,"e":"high","t":50,"p":0.65,"c":1},{"g":4,"s":2,"e":"high","t":65,"p":0.65,"c":1},{"g":4,"s":2,"e":"high","t":75,"p":0.58},{"g":4,"s":2,"e":"high","t":77,"p":0.53},{"g":4,"s":2,"e":"high","t":90,"p":0.53,"c":1},{"g":4,"s":2,"e":"high","t":105,"p":0.53,"c":1},{"g":4,"s":2,"e":"high","t":122,"p":0.34},{"g":4,"s":2,"e":"high","t":128,"p":0.34,"c":1},{"g":4,"s":2,"e":"high","t":150,"p":0.34,"c":1},
{"g":4,"s":3,"e":"low","t":0,"p":1},{"g":4,"s":3,"e":"low","t":5,"p":0.96},{"g":4,"s":3,"e":"low","t":10,"p":0.9},{"g":4,"s":3,"e":"low","t":15,"p":0.83},{"g":4,"s":3,"e":"low","t":20,"p":0.77},{"g":4,"s":3,"e":"low","t":25,"p":0.72},{"g":4,"s":3,"e":"low","t":30,"p":0.66},{"g":4,"s":3,"e":"low","t":35,"p":0.62},{"g":4,"s":3,"e":"low","t":40,"p":0.6},{"g":4,"s":3,"e":"low","t":50,"p":0.57},{"g":4,"s":3,"e":"low","t":60,"p":0.55},{"g":4,"s":3,"e":"low","t":70,"p":0.53},{"g":4,"s":3,"e":"low","t":75,"p":0.5},{"g":4,"s":3,"e":"low","t":85,"p":0.5,"c":1},{"g":4,"s":3,"e":"low","t":90,"p":0.47},{"g":4,"s":3,"e":"low","t":100,"p":0.47,"c":1},{"g":4,"s":3,"e":"low","t":115,"p":0.47,"c":1},{"g":4,"s":3,"e":"low","t":133,"p":0.47,"c":1},
{"g":4,"s":3,"e":"high","t":0,"p":1},{"g":4,"s":3,"e":"high","t":3,"p":0.94},{"g":4,"s":3,"e":"high","t":5,"p":0.87},{"g":4,"s":3,"e":"high","t":8,"p":0.81},{"g":4,"s":3,"e":"high","t":12,"p":0.74},{"g":4,"s":3,"e":"high","t":15,"p":0.68},{"g":4,"s":3,"e":"high","t":20,"p":0.57},{"g":4,"s":3,"e":"high","t":25,"p":0.49},{"g":4,"s":3,"e":"high","t":30,"p":0.42},{"g":4,"s":3,"e":"high","t":35,"p":0.38},{"g":4,"s":3,"e":"high","t":40,"p":0.335},{"g":4,"s":3,"e":"high","t":45,"p":0.3},{"g":4,"s":3,"e":"high","t":50,"p":0.28},{"g":4,"s":3,"e":"high","t":60,"p":0.27},{"g":4,"s":3,"e":"high","t":70,"p":0.27,"c":1},{"g":4,"s":3,"e":"high","t":85,"p":0.26},{"g":4,"s":3,"e":"high","t":90,"p":0.23},{"g":4,"s":3,"e":"high","t":100,"p":0.17},{"g":4,"s":3,"e":"high","t":118,"p":0.17,"c":1},{"g":4,"s":3,"e":"high","t":134,"p":0.17,"c":1},
{"g":4,"s":4,"e":"low","t":0,"p":1},{"g":4,"s":4,"e":"low","t":3,"p":0.97},{"g":4,"s":4,"e":"low","t":5,"p":0.93},{"g":4,"s":4,"e":"low","t":8,"p":0.85},{"g":4,"s":4,"e":"low","t":10,"p":0.78},{"g":4,"s":4,"e":"low","t":12,"p":0.66},{"g":4,"s":4,"e":"low","t":15,"p":0.58},{"g":4,"s":4,"e":"low","t":20,"p":0.49},{"g":4,"s":4,"e":"low","t":25,"p":0.42},{"g":4,"s":4,"e":"low","t":30,"p":0.35},{"g":4,"s":4,"e":"low","t":35,"p":0.3},{"g":4,"s":4,"e":"low","t":37,"p":0.28},{"g":4,"s":4,"e":"low","t":45,"p":0.26},{"g":4,"s":4,"e":"low","t":50,"p":0.24},{"g":4,"s":4,"e":"low","t":60,"p":0.23},{"g":4,"s":4,"e":"low","t":70,"p":0.21},{"g":4,"s":4,"e":"low","t":80,"p":0.21,"c":1},{"g":4,"s":4,"e":"low","t":94,"p":0.21,"c":1},
{"g":4,"s":4,"e":"high","t":0,"p":1},{"g":4,"s":4,"e":"high","t":4,"p":0.95},{"g":4,"s":4,"e":"high","t":6,"p":0.8},{"g":4,"s":4,"e":"high","t":7,"p":0.66},{"g":4,"s":4,"e":"high","t":10,"p":0.57},{"g":4,"s":4,"e":"high","t":12,"p":0.51},{"g":4,"s":4,"e":"high","t":15,"p":0.42},{"g":4,"s":4,"e":"high","t":18,"p":0.33},{"g":4,"s":4,"e":"high","t":22,"p":0.25},{"g":4,"s":4,"e":"high","t":28,"p":0.17},{"g":4,"s":4,"e":"high","t":35,"p":0.12},{"g":4,"s":4,"e":"high","t":57,"p":0.09},{"g":4,"s":4,"e":"high","t":90,"p":0.09,"c":1},{"g":4,"s":4,"e":"high","t":119,"p":0.09,"c":1},

{"g":5,"s":1,"e":"low","t":0,"p":1},{"g":5,"s":1,"e":"low","t":5,"p":0.98},{"g":5,"s":1,"e":"low","t":10,"p":0.95},{"g":5,"s":1,"e":"low","t":15,"p":0.92},{"g":5,"s":1,"e":"low","t":18,"p":0.87},{"g":5,"s":1,"e":"low","t":20,"p":0.83},{"g":5,"s":1,"e":"low","t":35,"p":0.81},{"g":5,"s":1,"e":"low","t":45,"p":0.74},{"g":5,"s":1,"e":"low","t":50,"p":0.73},{"g":5,"s":1,"e":"low","t":60,"p":0.73,"c":1},{"g":5,"s":1,"e":"low","t":63,"p":0.69},{"g":5,"s":1,"e":"low","t":70,"p":0.69,"c":1},{"g":5,"s":1,"e":"low","t":80,"p":0.69,"c":1},{"g":5,"s":1,"e":"low","t":93,"p":0.6},{"g":5,"s":1,"e":"low","t":110,"p":0.6,"c":1},{"g":5,"s":1,"e":"low","t":120,"p":0.6,"c":1},{"g":5,"s":1,"e":"low","t":145,"p":0.6,"c":1},
{"g":5,"s":1,"e":"high","t":0,"p":1},{"g":5,"s":1,"e":"high","t":30,"p":0.94},{"g":5,"s":1,"e":"high","t":35,"p":0.88},{"g":5,"s":1,"e":"high","t":58,"p":0.88,"c":1},{"g":5,"s":1,"e":"high","t":65,"p":0.88,"c":1},{"g":5,"s":1,"e":"high","t":81,"p":0.73},{"g":5,"s":1,"e":"high","t":113,"p":0.55},{"g":5,"s":1,"e":"high","t":123,"p":0.55,"c":1},{"g":5,"s":1,"e":"high","t":145,"p":0.55,"c":1},
{"g":5,"s":2,"e":"low","t":0,"p":1},{"g":5,"s":2,"e":"low","t":5,"p":0.98},{"g":5,"s":2,"e":"low","t":10,"p":0.92},{"g":5,"s":2,"e":"low","t":15,"p":0.89},{"g":5,"s":2,"e":"low","t":20,"p":0.86},{"g":5,"s":2,"e":"low","t":25,"p":0.82},{"g":5,"s":2,"e":"low","t":30,"p":0.78},{"g":5,"s":2,"e":"low","t":35,"p":0.73},{"g":5,"s":2,"e":"low","t":40,"p":0.69},{"g":5,"s":2,"e":"low","t":45,"p":0.64},{"g":5,"s":2,"e":"low","t":50,"p":0.62},{"g":5,"s":2,"e":"low","t":65,"p":0.61},{"g":5,"s":2,"e":"low","t":75,"p":0.58},{"g":5,"s":2,"e":"low","t":78,"p":0.52},{"g":5,"s":2,"e":"low","t":88,"p":0.52,"c":1},{"g":5,"s":2,"e":"low","t":100,"p":0.52,"c":1},{"g":5,"s":2,"e":"low","t":118,"p":0.52,"c":1},
{"g":5,"s":2,"e":"high","t":0,"p":1},{"g":5,"s":2,"e":"high","t":8,"p":0.96},{"g":5,"s":2,"e":"high","t":12,"p":0.9},{"g":5,"s":2,"e":"high","t":20,"p":0.87},{"g":5,"s":2,"e":"high","t":30,"p":0.83},{"g":5,"s":2,"e":"high","t":40,"p":0.78},{"g":5,"s":2,"e":"high","t":50,"p":0.77},{"g":5,"s":2,"e":"high","t":60,"p":0.76},{"g":5,"s":2,"e":"high","t":70,"p":0.76,"c":1},{"g":5,"s":2,"e":"high","t":80,"p":0.74},{"g":5,"s":2,"e":"high","t":85,"p":0.72},{"g":5,"s":2,"e":"high","t":95,"p":0.72,"c":1},{"g":5,"s":2,"e":"high","t":110,"p":0.72,"c":1},{"g":5,"s":2,"e":"high","t":122,"p":0.43},{"g":5,"s":2,"e":"high","t":128,"p":0.43,"c":1},{"g":5,"s":2,"e":"high","t":155,"p":0.43,"c":1},
{"g":5,"s":3,"e":"low","t":0,"p":1},{"g":5,"s":3,"e":"low","t":3,"p":0.95},{"g":5,"s":3,"e":"low","t":5,"p":0.88},{"g":5,"s":3,"e":"low","t":8,"p":0.82},{"g":5,"s":3,"e":"low","t":10,"p":0.73},{"g":5,"s":3,"e":"low","t":15,"p":0.62},{"g":5,"s":3,"e":"low","t":20,"p":0.53},{"g":5,"s":3,"e":"low","t":25,"p":0.45},{"g":5,"s":3,"e":"low","t":30,"p":0.39},{"g":5,"s":3,"e":"low","t":35,"p":0.33},{"g":5,"s":3,"e":"low","t":40,"p":0.29},{"g":5,"s":3,"e":"low","t":50,"p":0.27},{"g":5,"s":3,"e":"low","t":60,"p":0.25},{"g":5,"s":3,"e":"low","t":70,"p":0.21},{"g":5,"s":3,"e":"low","t":80,"p":0.21,"c":1},{"g":5,"s":3,"e":"low","t":87,"p":0.175},{"g":5,"s":3,"e":"low","t":100,"p":0.175,"c":1},{"g":5,"s":3,"e":"low","t":120,"p":0.175,"c":1},{"g":5,"s":3,"e":"low","t":134,"p":0.175,"c":1},
{"g":5,"s":3,"e":"high","t":0,"p":1},{"g":5,"s":3,"e":"high","t":5,"p":0.95},{"g":5,"s":3,"e":"high","t":8,"p":0.88},{"g":5,"s":3,"e":"high","t":10,"p":0.83},{"g":5,"s":3,"e":"high","t":15,"p":0.72},{"g":5,"s":3,"e":"high","t":20,"p":0.64},{"g":5,"s":3,"e":"high","t":25,"p":0.57},{"g":5,"s":3,"e":"high","t":30,"p":0.53},{"g":5,"s":3,"e":"high","t":40,"p":0.48},{"g":5,"s":3,"e":"high","t":50,"p":0.44},{"g":5,"s":3,"e":"high","t":60,"p":0.43},{"g":5,"s":3,"e":"high","t":70,"p":0.43,"c":1},{"g":5,"s":3,"e":"high","t":80,"p":0.41},{"g":5,"s":3,"e":"high","t":85,"p":0.38},{"g":5,"s":3,"e":"high","t":90,"p":0.36},{"g":5,"s":3,"e":"high","t":100,"p":0.33},{"g":5,"s":3,"e":"high","t":115,"p":0.33,"c":1},{"g":5,"s":3,"e":"high","t":134,"p":0.33,"c":1},
{"g":5,"s":4,"e":"low","t":0,"p":1},{"g":5,"s":4,"e":"low","t":4,"p":0.92},{"g":5,"s":4,"e":"low","t":5,"p":0.85},{"g":5,"s":4,"e":"low","t":6,"p":0.74},{"g":5,"s":4,"e":"low","t":8,"p":0.68},{"g":5,"s":4,"e":"low","t":10,"p":0.62},{"g":5,"s":4,"e":"low","t":12,"p":0.57},{"g":5,"s":4,"e":"low","t":15,"p":0.48},{"g":5,"s":4,"e":"low","t":18,"p":0.39},{"g":5,"s":4,"e":"low","t":20,"p":0.35},{"g":5,"s":4,"e":"low","t":25,"p":0.3},{"g":5,"s":4,"e":"low","t":30,"p":0.24},{"g":5,"s":4,"e":"low","t":35,"p":0.2},{"g":5,"s":4,"e":"low","t":37,"p":0.14},{"g":5,"s":4,"e":"low","t":55,"p":0.11},{"g":5,"s":4,"e":"low","t":77,"p":0.09},{"g":5,"s":4,"e":"low","t":90,"p":0.09,"c":1},{"g":5,"s":4,"e":"low","t":119,"p":0.09,"c":1},
{"g":5,"s":4,"e":"high","t":0,"p":1},{"g":5,"s":4,"e":"high","t":5,"p":0.9},{"g":5,"s":4,"e":"high","t":7,"p":0.78},{"g":5,"s":4,"e":"high","t":10,"p":0.71},{"g":5,"s":4,"e":"high","t":15,"p":0.66},{"g":5,"s":4,"e":"high","t":20,"p":0.57},{"g":5,"s":4,"e":"high","t":25,"p":0.5},{"g":5,"s":4,"e":"high","t":28,"p":0.45},{"g":5,"s":4,"e":"high","t":32,"p":0.37},{"g":5,"s":4,"e":"high","t":55,"p":0.31},{"g":5,"s":4,"e":"high","t":70,"p":0.31,"c":1},{"g":5,"s":4,"e":"high","t":85,"p":0.31,"c":1},{"g":5,"s":4,"e":"high","t":94,"p":0.31,"c":1},

{"g":6,"s":1,"e":"low","t":0,"p":1},{"g":6,"s":1,"e":"low","t":5,"p":0.97},{"g":6,"s":1,"e":"low","t":10,"p":0.93},{"g":6,"s":1,"e":"low","t":15,"p":0.89},{"g":6,"s":1,"e":"low","t":25,"p":0.88},{"g":6,"s":1,"e":"low","t":30,"p":0.84},{"g":6,"s":1,"e":"low","t":35,"p":0.8},{"g":6,"s":1,"e":"low","t":42,"p":0.74},{"g":6,"s":1,"e":"low","t":48,"p":0.7},{"g":6,"s":1,"e":"low","t":62,"p":0.66},{"g":6,"s":1,"e":"low","t":65,"p":0.64},{"g":6,"s":1,"e":"low","t":80,"p":0.64,"c":1},{"g":6,"s":1,"e":"low","t":90,"p":0.64,"c":1},{"g":6,"s":1,"e":"low","t":112,"p":0.32},{"g":6,"s":1,"e":"low","t":143,"p":0.32,"c":1},
{"g":6,"s":1,"e":"high","t":0,"p":1},{"g":6,"s":1,"e":"high","t":20,"p":0.96},{"g":6,"s":1,"e":"high","t":27,"p":0.93},{"g":6,"s":1,"e":"high","t":32,"p":0.9},{"g":6,"s":1,"e":"high","t":40,"p":0.86},{"g":6,"s":1,"e":"high","t":60,"p":0.86,"c":1},{"g":6,"s":1,"e":"high","t":70,"p":0.86,"c":1},{"g":6,"s":1,"e":"high","t":80,"p":0.77},{"g":6,"s":1,"e":"high","t":93,"p":0.67},{"g":6,"s":1,"e":"high","t":115,"p":0.67,"c":1},{"g":6,"s":1,"e":"high","t":130,"p":0.67,"c":1},{"g":6,"s":1,"e":"high","t":145,"p":0.67,"c":1},
{"g":6,"s":2,"e":"low","t":0,"p":1},{"g":6,"s":2,"e":"low","t":5,"p":0.98},{"g":6,"s":2,"e":"low","t":10,"p":0.94},{"g":6,"s":2,"e":"low","t":20,"p":0.89},{"g":6,"s":2,"e":"low","t":30,"p":0.85},{"g":6,"s":2,"e":"low","t":40,"p":0.81},{"g":6,"s":2,"e":"low","t":50,"p":0.78},{"g":6,"s":2,"e":"low","t":60,"p":0.76},{"g":6,"s":2,"e":"low","t":75,"p":0.73},{"g":6,"s":2,"e":"low","t":78,"p":0.71},{"g":6,"s":2,"e":"low","t":90,"p":0.71,"c":1},{"g":6,"s":2,"e":"low","t":105,"p":0.71,"c":1},{"g":6,"s":2,"e":"low","t":122,"p":0.53},{"g":6,"s":2,"e":"low","t":128,"p":0.53,"c":1},{"g":6,"s":2,"e":"low","t":152,"p":0.53,"c":1},
{"g":6,"s":2,"e":"high","t":0,"p":1},{"g":6,"s":2,"e":"high","t":8,"p":0.95},{"g":6,"s":2,"e":"high","t":10,"p":0.87},{"g":6,"s":2,"e":"high","t":20,"p":0.8},{"g":6,"s":2,"e":"high","t":25,"p":0.72},{"g":6,"s":2,"e":"high","t":35,"p":0.645},{"g":6,"s":2,"e":"high","t":50,"p":0.61},{"g":6,"s":2,"e":"high","t":60,"p":0.61,"c":1},{"g":6,"s":2,"e":"high","t":85,"p":0.56},{"g":6,"s":2,"e":"high","t":95,"p":0.56,"c":1},{"g":6,"s":2,"e":"high","t":122,"p":0},
{"g":6,"s":3,"e":"low","t":0,"p":1},{"g":6,"s":3,"e":"low","t":4,"p":0.94},{"g":6,"s":3,"e":"low","t":5,"p":0.87},{"g":6,"s":3,"e":"low","t":8,"p":0.8},{"g":6,"s":3,"e":"low","t":12,"p":0.7},{"g":6,"s":3,"e":"low","t":15,"p":0.63},{"g":6,"s":3,"e":"low","t":20,"p":0.55},{"g":6,"s":3,"e":"low","t":25,"p":0.45},{"g":6,"s":3,"e":"low","t":30,"p":0.4},{"g":6,"s":3,"e":"low","t":35,"p":0.35},{"g":6,"s":3,"e":"low","t":40,"p":0.33},{"g":6,"s":3,"e":"low","t":45,"p":0.31},{"g":6,"s":3,"e":"low","t":65,"p":0.3},{"g":6,"s":3,"e":"low","t":70,"p":0.28},{"g":6,"s":3,"e":"low","t":90,"p":0.28,"c":1},{"g":6,"s":3,"e":"low","t":100,"p":0.24},{"g":6,"s":3,"e":"low","t":115,"p":0.24,"c":1},{"g":6,"s":3,"e":"low","t":133,"p":0.24,"c":1},
{"g":6,"s":3,"e":"high","t":0,"p":1},{"g":6,"s":3,"e":"high","t":5,"p":0.94},{"g":6,"s":3,"e":"high","t":10,"p":0.88},{"g":6,"s":3,"e":"high","t":15,"p":0.77},{"g":6,"s":3,"e":"high","t":20,"p":0.7},{"g":6,"s":3,"e":"high","t":25,"p":0.63},{"g":6,"s":3,"e":"high","t":30,"p":0.56},{"g":6,"s":3,"e":"high","t":35,"p":0.5},{"g":6,"s":3,"e":"high","t":40,"p":0.46},{"g":6,"s":3,"e":"high","t":50,"p":0.43},{"g":6,"s":3,"e":"high","t":60,"p":0.42},{"g":6,"s":3,"e":"high","t":65,"p":0.4},{"g":6,"s":3,"e":"high","t":75,"p":0.4,"c":1},{"g":6,"s":3,"e":"high","t":85,"p":0.38},{"g":6,"s":3,"e":"high","t":88,"p":0.34},{"g":6,"s":3,"e":"high","t":92,"p":0.32},{"g":6,"s":3,"e":"high","t":110,"p":0.32,"c":1},{"g":6,"s":3,"e":"high","t":134,"p":0.32,"c":1},
{"g":6,"s":4,"e":"low","t":0,"p":1},{"g":6,"s":4,"e":"low","t":3,"p":0.97},{"g":6,"s":4,"e":"low","t":5,"p":0.85},{"g":6,"s":4,"e":"low","t":7,"p":0.72},{"g":6,"s":4,"e":"low","t":9,"p":0.66},{"g":6,"s":4,"e":"low","t":10,"p":0.6},{"g":6,"s":4,"e":"low","t":12,"p":0.54},{"g":6,"s":4,"e":"low","t":15,"p":0.48},{"g":6,"s":4,"e":"low","t":18,"p":0.41},{"g":6,"s":4,"e":"low","t":21,"p":0.35},{"g":6,"s":4,"e":"low","t":25,"p":0.3},{"g":6,"s":4,"e":"low","t":28,"p":0.24},{"g":6,"s":4,"e":"low","t":30,"p":0.19},{"g":6,"s":4,"e":"low","t":45,"p":0.19,"c":1},{"g":6,"s":4,"e":"low","t":57,"p":0.17},{"g":6,"s":4,"e":"low","t":77,"p":0.145},{"g":6,"s":4,"e":"low","t":90,"p":0.145,"c":1},{"g":6,"s":4,"e":"low","t":118,"p":0.145,"c":1},
{"g":6,"s":4,"e":"high","t":0,"p":1},{"g":6,"s":4,"e":"high","t":4,"p":0.97},{"g":6,"s":4,"e":"high","t":6,"p":0.93},{"g":6,"s":4,"e":"high","t":8,"p":0.85},{"g":6,"s":4,"e":"high","t":10,"p":0.77},{"g":6,"s":4,"e":"high","t":12,"p":0.68},{"g":6,"s":4,"e":"high","t":14,"p":0.62},{"g":6,"s":4,"e":"high","t":17,"p":0.57},{"g":6,"s":4,"e":"high","t":20,"p":0.47},{"g":6,"s":4,"e":"high","t":25,"p":0.4},{"g":6,"s":4,"e":"high","t":28,"p":0.33},{"g":6,"s":4,"e":"high","t":33,"p":0.27},{"g":6,"s":4,"e":"high","t":35,"p":0.24},{"g":6,"s":4,"e":"high","t":40,"p":0.22},{"g":6,"s":4,"e":"high","t":55,"p":0.2},{"g":6,"s":4,"e":"high","t":70,"p":0.2,"c":1},{"g":6,"s":4,"e":"high","t":85,"p":0.2,"c":1},{"g":6,"s":4,"e":"high","t":94,"p":0.2,"c":1},

{"g":7,"s":1,"e":"low","t":0,"p":1},{"g":7,"s":1,"e":"low","t":10,"p":0.97},{"g":7,"s":1,"e":"low","t":17,"p":0.94},{"g":7,"s":1,"e":"low","t":20,"p":0.89},{"g":7,"s":1,"e":"low","t":30,"p":0.85},{"g":7,"s":1,"e":"low","t":33,"p":0.8},{"g":7,"s":1,"e":"low","t":35,"p":0.77},{"g":7,"s":1,"e":"low","t":45,"p":0.72},{"g":7,"s":1,"e":"low","t":55,"p":0.72,"c":1},{"g":7,"s":1,"e":"low","t":65,"p":0.68},{"g":7,"s":1,"e":"low","t":75,"p":0.68,"c":1},{"g":7,"s":1,"e":"low","t":93,"p":0.6},{"g":7,"s":1,"e":"low","t":112,"p":0.5},{"g":7,"s":1,"e":"low","t":125,"p":0.5,"c":1},{"g":7,"s":1,"e":"low","t":143,"p":0.5,"c":1},
{"g":7,"s":1,"e":"high","t":0,"p":1},{"g":7,"s":1,"e":"high","t":8,"p":1,"c":1},{"g":7,"s":1,"e":"high","t":18,"p":0.97},{"g":7,"s":1,"e":"high","t":25,"p":0.935},{"g":7,"s":1,"e":"high","t":60,"p":0.935,"c":1},{"g":7,"s":1,"e":"high","t":70,"p":0.935,"c":1},{"g":7,"s":1,"e":"high","t":80,"p":0.75},{"g":7,"s":1,"e":"high","t":120,"p":0.75,"c":1},{"g":7,"s":1,"e":"high","t":145,"p":0.75,"c":1},
{"g":7,"s":2,"e":"low","t":0,"p":1},{"g":7,"s":2,"e":"low","t":5,"p":0.97},{"g":7,"s":2,"e":"low","t":10,"p":0.93},{"g":7,"s":2,"e":"low","t":15,"p":0.87},{"g":7,"s":2,"e":"low","t":20,"p":0.82},{"g":7,"s":2,"e":"low","t":25,"p":0.78},{"g":7,"s":2,"e":"low","t":30,"p":0.76},{"g":7,"s":2,"e":"low","t":35,"p":0.74},{"g":7,"s":2,"e":"low","t":40,"p":0.7},{"g":7,"s":2,"e":"low","t":45,"p":0.65},{"g":7,"s":2,"e":"low","t":47,"p":0.63},{"g":7,"s":2,"e":"low","t":60,"p":0.63,"c":1},{"g":7,"s":2,"e":"low","t":75,"p":0.6},{"g":7,"s":2,"e":"low","t":78,"p":0.54},{"g":7,"s":2,"e":"low","t":90,"p":0.54,"c":1},{"g":7,"s":2,"e":"low","t":110,"p":0.54,"c":1},{"g":7,"s":2,"e":"low","t":122,"p":0.35},{"g":7,"s":2,"e":"low","t":150,"p":0.35,"c":1},
{"g":7,"s":2,"e":"high","t":0,"p":1},{"g":7,"s":2,"e":"high","t":10,"p":0.96},{"g":7,"s":2,"e":"high","t":15,"p":0.91},{"g":7,"s":2,"e":"high","t":20,"p":0.87},{"g":7,"s":2,"e":"high","t":30,"p":0.83},{"g":7,"s":2,"e":"high","t":40,"p":0.8},{"g":7,"s":2,"e":"high","t":50,"p":0.79},{"g":7,"s":2,"e":"high","t":60,"p":0.77},{"g":7,"s":2,"e":"high","t":75,"p":0.76},{"g":7,"s":2,"e":"high","t":80,"p":0.74},{"g":7,"s":2,"e":"high","t":90,"p":0.74,"c":1},{"g":7,"s":2,"e":"high","t":110,"p":0.74,"c":1},{"g":7,"s":2,"e":"high","t":122,"p":0.365},{"g":7,"s":2,"e":"high","t":130,"p":0.365,"c":1},
{"g":7,"s":3,"e":"low","t":0,"p":1},{"g":7,"s":3,"e":"low","t":3,"p":0.97},{"g":7,"s":3,"e":"low","t":5,"p":0.95},{"g":7,"s":3,"e":"low","t":8,"p":0.91},{"g":7,"s":3,"e":"low","t":10,"p":0.89},{"g":7,"s":3,"e":"low","t":12,"p":0.84},{"g":7,"s":3,"e":"low","t":15,"p":0.77},{"g":7,"s":3,"e":"low","t":20,"p":0.67},{"g":7,"s":3,"e":"low","t":25,"p":0.6},{"g":7,"s":3,"e":"low","t":30,"p":0.53},{"g":7,"s":3,"e":"low","t":35,"p":0.49},{"g":7,"s":3,"e":"low","t":40,"p":0.45},{"g":7,"s":3,"e":"low","t":45,"p":0.42},{"g":7,"s":3,"e":"low","t":50,"p":0.4},{"g":7,"s":3,"e":"low","t":60,"p":0.39},{"g":7,"s":3,"e":"low","t":65,"p":0.37},{"g":7,"s":3,"e":"low","t":75,"p":0.35},{"g":7,"s":3,"e":"low","t":80,"p":0.34},{"g":7,"s":3,"e":"low","t":87,"p":0.31},{"g":7,"s":3,"e":"low","t":90,"p":0.28},{"g":7,"s":3,"e":"low","t":100,"p":0.23},{"g":7,"s":3,"e":"low","t":115,"p":0.23,"c":1},{"g":7,"s":3,"e":"low","t":133,"p":0.23,"c":1},
{"g":7,"s":3,"e":"high","t":0,"p":1},{"g":7,"s":3,"e":"high","t":5,"p":0.96},{"g":7,"s":3,"e":"high","t":10,"p":0.88},{"g":7,"s":3,"e":"high","t":13,"p":0.82},{"g":7,"s":3,"e":"high","t":15,"p":0.73},{"g":7,"s":3,"e":"high","t":20,"p":0.71},{"g":7,"s":3,"e":"high","t":25,"p":0.65},{"g":7,"s":3,"e":"high","t":30,"p":0.61},{"g":7,"s":3,"e":"high","t":40,"p":0.58},{"g":7,"s":3,"e":"high","t":50,"p":0.55},{"g":7,"s":3,"e":"high","t":55,"p":0.53},{"g":7,"s":3,"e":"high","t":60,"p":0.51},{"g":7,"s":3,"e":"high","t":80,"p":0.51,"c":1},{"g":7,"s":3,"e":"high","t":100,"p":0.51,"c":1},{"g":7,"s":3,"e":"high","t":134,"p":0.51,"c":1},
{"g":7,"s":4,"e":"low","t":0,"p":1},{"g":7,"s":4,"e":"low","t":3,"p":0.97},{"g":7,"s":4,"e":"low","t":5,"p":0.93},{"g":7,"s":4,"e":"low","t":6,"p":0.85},{"g":7,"s":4,"e":"low","t":8,"p":0.75},{"g":7,"s":4,"e":"low","t":10,"p":0.66},{"g":7,"s":4,"e":"low","t":12,"p":0.59},{"g":7,"s":4,"e":"low","t":15,"p":0.5},{"g":7,"s":4,"e":"low","t":20,"p":0.4},{"g":7,"s":4,"e":"low","t":25,"p":0.3},{"g":7,"s":4,"e":"low","t":30,"p":0.22},{"g":7,"s":4,"e":"low","t":33,"p":0.17},{"g":7,"s":4,"e":"low","t":37,"p":0.12},{"g":7,"s":4,"e":"low","t":45,"p":0.09},{"g":7,"s":4,"e":"low","t":77,"p":0.09,"c":1},{"g":7,"s":4,"e":"low","t":90,"p":0.09,"c":1},{"g":7,"s":4,"e":"low","t":119,"p":0.09,"c":1},
{"g":7,"s":4,"e":"high","t":0,"p":1},{"g":7,"s":4,"e":"high","t":5,"p":0.96},{"g":7,"s":4,"e":"high","t":7,"p":0.9},{"g":7,"s":4,"e":"high","t":9,"p":0.82},{"g":7,"s":4,"e":"high","t":12,"p":0.72},{"g":7,"s":4,"e":"high","t":16,"p":0.65},{"g":7,"s":4,"e":"high","t":20,"p":0.56},{"g":7,"s":4,"e":"high","t":25,"p":0.5},{"g":7,"s":4,"e":"high","t":30,"p":0.43},{"g":7,"s":4,"e":"high","t":35,"p":0.33},{"g":7,"s":4,"e":"high","t":55,"p":0.28},{"g":7,"s":4,"e":"high","t":65,"p":0.28,"c":1},{"g":7,"s":4,"e":"high","t":78,"p":0.24},{"g":7,"s":4,"e":"high","t":85,"p":0.24,"c":1},{"g":7,"s":4,"e":"high","t":94,"p":0.24,"c":1},

{"g":8,"s":1,"e":"low","t":0,"p":1},{"g":8,"s":1,"e":"low","t":5,"p":0.97},{"g":8,"s":1,"e":"low","t":10,"p":0.94},{"g":8,"s":1,"e":"low","t":15,"p":0.9},{"g":8,"s":1,"e":"low","t":18,"p":0.85},{"g":8,"s":1,"e":"low","t":20,"p":0.83},{"g":8,"s":1,"e":"low","t":33,"p":0.79},{"g":8,"s":1,"e":"low","t":45,"p":0.69},{"g":8,"s":1,"e":"low","t":48,"p":0.64},{"g":8,"s":1,"e":"low","t":58,"p":0.64,"c":1},{"g":8,"s":1,"e":"low","t":65,"p":0.59},{"g":8,"s":1,"e":"low","t":75,"p":0.59,"c":1},{"g":8,"s":1,"e":"low","t":93,"p":0.5},{"g":8,"s":1,"e":"low","t":110,"p":0.5,"c":1},{"g":8,"s":1,"e":"low","t":112,"p":0.4},{"g":8,"s":1,"e":"low","t":125,"p":0.4,"c":1},{"g":8,"s":1,"e":"low","t":143,"p":0.4,"c":1},
{"g":8,"s":1,"e":"high","t":0,"p":1},{"g":8,"s":1,"e":"high","t":20,"p":0.97},{"g":8,"s":1,"e":"high","t":32,"p":0.94},{"g":8,"s":1,"e":"high","t":35,"p":0.91},{"g":8,"s":1,"e":"high","t":55,"p":0.91,"c":1},{"g":8,"s":1,"e":"high","t":65,"p":0.91,"c":1},{"g":8,"s":1,"e":"high","t":80,"p":0.8},{"g":8,"s":1,"e":"high","t":85,"p":0.8,"c":1},{"g":8,"s":1,"e":"high","t":110,"p":0.8,"c":1},{"g":8,"s":1,"e":"high","t":145,"p":0.8,"c":1},
{"g":8,"s":2,"e":"low","t":0,"p":1},{"g":8,"s":2,"e":"low","t":5,"p":0.97},{"g":8,"s":2,"e":"low","t":8,"p":0.93},{"g":8,"s":2,"e":"low","t":12,"p":0.88},{"g":8,"s":2,"e":"low","t":15,"p":0.84},{"g":8,"s":2,"e":"low","t":20,"p":0.8},{"g":8,"s":2,"e":"low","t":25,"p":0.77},{"g":8,"s":2,"e":"low","t":30,"p":0.74},{"g":8,"s":2,"e":"low","t":35,"p":0.7},{"g":8,"s":2,"e":"low","t":40,"p":0.66},{"g":8,"s":2,"e":"low","t":45,"p":0.62},{"g":8,"s":2,"e":"low","t":50,"p":0.61},{"g":8,"s":2,"e":"low","t":70,"p":0.6},{"g":8,"s":2,"e":"low","t":75,"p":0.57},{"g":8,"s":2,"e":"low","t":80,"p":0.55},{"g":8,"s":2,"e":"low","t":85,"p":0.52},{"g":8,"s":2,"e":"low","t":90,"p":0.505},{"g":8,"s":2,"e":"low","t":110,"p":0.505,"c":1},{"g":8,"s":2,"e":"low","t":122,"p":0.255},{"g":8,"s":2,"e":"low","t":152,"p":0.255,"c":1},
{"g":8,"s":2,"e":"high","t":0,"p":1},{"g":8,"s":2,"e":"high","t":5,"p":0.98},{"g":8,"s":2,"e":"high","t":10,"p":0.93},{"g":8,"s":2,"e":"high","t":15,"p":0.9},{"g":8,"s":2,"e":"high","t":20,"p":0.87},{"g":8,"s":2,"e":"high","t":30,"p":0.85},{"g":8,"s":2,"e":"high","t":45,"p":0.83},{"g":8,"s":2,"e":"high","t":50,"p":0.82},{"g":8,"s":2,"e":"high","t":70,"p":0.82,"c":1},{"g":8,"s":2,"e":"high","t":90,"p":0.82,"c":1},{"g":8,"s":2,"e":"high","t":130,"p":0.82,"c":1},
{"g":8,"s":3,"e":"low","t":0,"p":1},{"g":8,"s":3,"e":"low","t":3,"p":0.96},{"g":8,"s":3,"e":"low","t":5,"p":0.9},{"g":8,"s":3,"e":"low","t":8,"p":0.83},{"g":8,"s":3,"e":"low","t":10,"p":0.78},{"g":8,"s":3,"e":"low","t":12,"p":0.72},{"g":8,"s":3,"e":"low","t":15,"p":0.65},{"g":8,"s":3,"e":"low","t":18,"p":0.62},{"g":8,"s":3,"e":"low","t":20,"p":0.6},{"g":8,"s":3,"e":"low","t":25,"p":0.53},{"g":8,"s":3,"e":"low","t":30,"p":0.45},{"g":8,"s":3,"e":"low","t":35,"p":0.4},{"g":8,"s":3,"e":"low","t":40,"p":0.35},{"g":8,"s":3,"e":"low","t":45,"p":0.33},{"g":8,"s":3,"e":"low","t":50,"p":0.31},{"g":8,"s":3,"e":"low","t":60,"p":0.3},{"g":8,"s":3,"e":"low","t":70,"p":0.28},{"g":8,"s":3,"e":"low","t":85,"p":0.26},{"g":8,"s":3,"e":"low","t":90,"p":0.24},{"g":8,"s":3,"e":"low","t":95,"p":0.22},{"g":8,"s":3,"e":"low","t":100,"p":0.2},{"g":8,"s":3,"e":"low","t":115,"p":0.2,"c":1},{"g":8,"s":3,"e":"low","t":133,"p":0.2,"c":1},
{"g":8,"s":3,"e":"high","t":0,"p":1},{"g":8,"s":3,"e":"high","t":5,"p":0.97},{"g":8,"s":3,"e":"high","t":8,"p":0.93},{"g":8,"s":3,"e":"high","t":10,"p":0.88},{"g":8,"s":3,"e":"high","t":15,"p":0.8},{"g":8,"s":3,"e":"high","t":20,"p":0.74},{"g":8,"s":3,"e":"high","t":25,"p":0.7},{"g":8,"s":3,"e":"high","t":30,"p":0.68},{"g":8,"s":3,"e":"high","t":35,"p":0.66},{"g":8,"s":3,"e":"high","t":40,"p":0.64},{"g":8,"s":3,"e":"high","t":50,"p":0.6},{"g":8,"s":3,"e":"high","t":55,"p":0.58},{"g":8,"s":3,"e":"high","t":70,"p":0.58,"c":1},{"g":8,"s":3,"e":"high","t":100,"p":0.58,"c":1},{"g":8,"s":3,"e":"high","t":133,"p":0.58,"c":1},
{"g":8,"s":4,"e":"low","t":0,"p":1},{"g":8,"s":4,"e":"low","t":3,"p":0.97},{"g":8,"s":4,"e":"low","t":5,"p":0.9},{"g":8,"s":4,"e":"low","t":7,"p":0.82},{"g":8,"s":4,"e":"low","t":8,"p":0.74},{"g":8,"s":4,"e":"low","t":10,"p":0.66},{"g":8,"s":4,"e":"low","t":12,"p":0.58},{"g":8,"s":4,"e":"low","t":15,"p":0.51},{"g":8,"s":4,"e":"low","t":17,"p":0.45},{"g":8,"s":4,"e":"low","t":20,"p":0.38},{"g":8,"s":4,"e":"low","t":22,"p":0.32},{"g":8,"s":4,"e":"low","t":25,"p":0.28},{"g":8,"s":4,"e":"low","t":28,"p":0.26},{"g":8,"s":4,"e":"low","t":30,"p":0.22},{"g":8,"s":4,"e":"low","t":33,"p":0.19},{"g":8,"s":4,"e":"low","t":37,"p":0.16},{"g":8,"s":4,"e":"low","t":55,"p":0.14},{"g":8,"s":4,"e":"low","t":60,"p":0.12},{"g":8,"s":4,"e":"low","t":90,"p":0.12,"c":1},{"g":8,"s":4,"e":"low","t":119,"p":0.12,"c":1},
{"g":8,"s":4,"e":"high","t":0,"p":1},{"g":8,"s":4,"e":"high","t":5,"p":0.97},{"g":8,"s":4,"e":"high","t":7,"p":0.9},{"g":8,"s":4,"e":"high","t":10,"p":0.8},{"g":8,"s":4,"e":"high","t":12,"p":0.73},{"g":8,"s":4,"e":"high","t":15,"p":0.67},{"g":8,"s":4,"e":"high","t":20,"p":0.63},{"g":8,"s":4,"e":"high","t":25,"p":0.57},{"g":8,"s":4,"e":"high","t":27,"p":0.52},{"g":8,"s":4,"e":"high","t":30,"p":0.45},{"g":8,"s":4,"e":"high","t":35,"p":0.36},{"g":8,"s":4,"e":"high","t":42,"p":0.35},{"g":8,"s":4,"e":"high","t":55,"p":0.29},{"g":8,"s":4,"e":"high","t":65,"p":0.29,"c":1},{"g":8,"s":4,"e":"high","t":77,"p":0.25},{"g":8,"s":4,"e":"high","t":85,"p":0.25,"c":1},{"g":8,"s":4,"e":"high","t":94,"p":0.25,"c":1}
]},
"hconcat":[
{"transform":[{"filter":"datum.s==1"}],"facet":{"row":{"field":"g","type":"ordinal","header":null}},"spacing":{"row":28},"resolve":{"axis":{"x":"independent"}},
"spec":{"width":148,"height":128,"resolve":{"axis":{"x":"independent"}},"layer":[
{"transform":[{"filter":"isValid(datum.p)"}],"mark":"line","encoding":{"x":{"field":"t","type":"quantitative","scale":{"domain":[0,150],"nice":false},"axis":{"orient":"bottom","values":[0,20,40,60,80,100,120,140],"title":"Time (months)"}},"y":{"field":"p","type":"quantitative","scale":{"domain":[-0.04,1.05],"nice":false},"axis":{"values":[0,0.2,0.4,0.6,0.8,1],"format":".1f","title":"Probability"}},"color":{"field":"e","type":"nominal","scale":{"domain":["low","high"],"range":["#000000","#d32f2f"]},"legend":null}}},
{"transform":[{"filter":"datum.c==1"}],"mark":{"type":"tick","orient":"vertical"},"encoding":{"x":{"field":"t","type":"quantitative","axis":{"orient":"top","title":"I","labels":false,"ticks":false,"domain":false,"titleFontSize":13,"titleFontWeight":"bold","titleColor":"#000","titlePadding":3,"titleFont":"Liberation Sans Narrow, Liberation Sans"}},"y":{"field":"p","type":"quantitative","axis":null},"color":{"field":"e","type":"nominal","legend":null}}},
{"transform":[{"filter":"isValid(datum.hr)"}],"mark":{"type":"text","align":"right","baseline":"top","lineBreak":"\n","dx":-3,"dy":3},"encoding":{"x":{"value":"width"},"y":{"value":0},"text":{"field":"hr"}}},
{"transform":[{"filter":"isValid(datum.hr)"}],"mark":{"type":"text","text":"Expression","align":"left","baseline":"middle"},"encoding":{"x":{"datum":2,"axis":null},"y":{"datum":0.115,"axis":null}}},
{"transform":[{"filter":"isValid(datum.hr)"}],"mark":{"type":"rule","color":"#000000"},"encoding":{"x":{"datum":3,"axis":null},"x2":{"datum":12},"y":{"datum":0.06,"axis":null}}},
{"transform":[{"filter":"isValid(datum.hr)"}],"mark":{"type":"rule","color":"#d32f2f"},"encoding":{"x":{"datum":3,"axis":null},"x2":{"datum":12},"y":{"datum":0.015,"axis":null}}},
{"transform":[{"filter":"isValid(datum.hr)"}],"mark":{"type":"text","text":"low","align":"left","baseline":"middle"},"encoding":{"x":{"datum":15,"axis":null},"y":{"datum":0.06,"axis":null}}},
{"transform":[{"filter":"isValid(datum.hr)"}],"mark":{"type":"text","text":"high","align":"left","baseline":"middle"},"encoding":{"x":{"datum":15,"axis":null},"y":{"datum":0.015,"axis":null}}},
{"transform":[{"filter":"isValid(datum.hr)"}],"mark":{"type":"text","text":"Number at risk","align":"left","baseline":"middle"},"encoding":{"x":{"datum":0,"axis":null},"y":{"datum":-0.223,"axis":null}}},
{"transform":[{"filter":"isValid(datum.hr)"}],"mark":{"type":"text","text":"low","align":"right","baseline":"middle","dx":-5},"encoding":{"x":{"datum":0,"axis":null},"y":{"datum":-0.261,"axis":null}}},
{"transform":[{"filter":"isValid(datum.hr)"}],"mark":{"type":"text","text":"high","align":"right","baseline":"middle","dx":-5,"color":"#d32f2f"},"encoding":{"x":{"datum":0,"axis":null},"y":{"datum":-0.313,"axis":null}}},
{"transform":[{"filter":"isValid(datum.lo)"}],"mark":{"type":"text","baseline":"middle"},"encoding":{"x":{"field":"t","type":"quantitative","axis":null},"y":{"datum":-0.261,"axis":null},"text":{"field":"lo"}}},
{"transform":[{"filter":"isValid(datum.hi)"}],"mark":{"type":"text","baseline":"middle","color":"#d32f2f"},"encoding":{"x":{"field":"t","type":"quantitative","axis":null},"y":{"datum":-0.313,"axis":null},"text":{"field":"hi"}}},
{"transform":[{"filter":"isValid(datum.hr)"}],"mark":{"type":"text","align":"left","baseline":"bottom","dx":-34,"dy":2,"fontSize":14,"font":"Liberation Sans Narrow, Liberation Sans","color":"#000000"},"encoding":{"x":{"datum":0,"axis":null},"y":{"datum":1.05,"axis":null},"text":{"field":"n"}}}
]}},
{"transform":[{"filter":"datum.s==2"}],"facet":{"row":{"field":"g","type":"ordinal","header":null}},"spacing":{"row":28},"resolve":{"axis":{"x":"independent"}},
"spec":{"width":152,"height":128,"resolve":{"axis":{"x":"independent"}},"layer":[
{"transform":[{"filter":"isValid(datum.p)"}],"mark":"line","encoding":{"x":{"field":"t","type":"quantitative","scale":{"domain":[0,157],"nice":false},"axis":{"orient":"bottom","values":[0,50,100,150],"title":"Time (months)"}},"y":{"field":"p","type":"quantitative","scale":{"domain":[-0.04,1.05],"nice":false},"axis":{"values":[0,0.2,0.4,0.6,0.8,1],"format":".1f","title":"Probability"}},"color":{"field":"e","type":"nominal","scale":{"domain":["low","high"],"range":["#000000","#d32f2f"]},"legend":null}}},
{"transform":[{"filter":"datum.c==1"}],"mark":{"type":"tick","orient":"vertical"},"encoding":{"x":{"field":"t","type":"quantitative","axis":{"orient":"top","title":"II","labels":false,"ticks":false,"domain":false,"titleFontSize":13,"titleFontWeight":"bold","titleColor":"#000","titlePadding":3,"titleFont":"Liberation Sans Narrow, Liberation Sans"}},"y":{"field":"p","type":"quantitative","axis":null},"color":{"field":"e","type":"nominal","legend":null}}},
{"transform":[{"filter":"isValid(datum.hr)"}],"mark":{"type":"text","align":"right","baseline":"top","lineBreak":"\n","dx":-3,"dy":3},"encoding":{"x":{"value":"width"},"y":{"value":0},"text":{"field":"hr"}}},
{"transform":[{"filter":"isValid(datum.hr)"}],"mark":{"type":"text","text":"Expression","align":"left","baseline":"middle"},"encoding":{"x":{"datum":2,"axis":null},"y":{"datum":0.115,"axis":null}}},
{"transform":[{"filter":"isValid(datum.hr)"}],"mark":{"type":"rule","color":"#000000"},"encoding":{"x":{"datum":3,"axis":null},"x2":{"datum":12},"y":{"datum":0.06,"axis":null}}},
{"transform":[{"filter":"isValid(datum.hr)"}],"mark":{"type":"rule","color":"#d32f2f"},"encoding":{"x":{"datum":3,"axis":null},"x2":{"datum":12},"y":{"datum":0.015,"axis":null}}},
{"transform":[{"filter":"isValid(datum.hr)"}],"mark":{"type":"text","text":"low","align":"left","baseline":"middle"},"encoding":{"x":{"datum":15,"axis":null},"y":{"datum":0.06,"axis":null}}},
{"transform":[{"filter":"isValid(datum.hr)"}],"mark":{"type":"text","text":"high","align":"left","baseline":"middle"},"encoding":{"x":{"datum":15,"axis":null},"y":{"datum":0.015,"axis":null}}},
{"transform":[{"filter":"isValid(datum.hr)"}],"mark":{"type":"text","text":"Number at risk","align":"left","baseline":"middle"},"encoding":{"x":{"datum":0,"axis":null},"y":{"datum":-0.223,"axis":null}}},
{"transform":[{"filter":"isValid(datum.hr)"}],"mark":{"type":"text","text":"low","align":"right","baseline":"middle","dx":-5},"encoding":{"x":{"datum":0,"axis":null},"y":{"datum":-0.261,"axis":null}}},
{"transform":[{"filter":"isValid(datum.hr)"}],"mark":{"type":"text","text":"high","align":"right","baseline":"middle","dx":-5,"color":"#d32f2f"},"encoding":{"x":{"datum":0,"axis":null},"y":{"datum":-0.313,"axis":null}}},
{"transform":[{"filter":"isValid(datum.lo)"}],"mark":{"type":"text","baseline":"middle"},"encoding":{"x":{"field":"t","type":"quantitative","axis":null},"y":{"datum":-0.261,"axis":null},"text":{"field":"lo"}}},
{"transform":[{"filter":"isValid(datum.hi)"}],"mark":{"type":"text","baseline":"middle","color":"#d32f2f"},"encoding":{"x":{"field":"t","type":"quantitative","axis":null},"y":{"datum":-0.313,"axis":null},"text":{"field":"hi"}}}
]}},
{"transform":[{"filter":"datum.s==3"}],"facet":{"row":{"field":"g","type":"ordinal","header":null}},"spacing":{"row":28},"resolve":{"axis":{"x":"independent"}},
"spec":{"width":153,"height":128,"resolve":{"axis":{"x":"independent"}},"layer":[
{"transform":[{"filter":"isValid(datum.p)"}],"mark":"line","encoding":{"x":{"field":"t","type":"quantitative","scale":{"domain":[0,138],"nice":false},"axis":{"orient":"bottom","values":[0,20,40,60,80,100,120],"title":"Time (months)"}},"y":{"field":"p","type":"quantitative","scale":{"domain":[-0.04,1.05],"nice":false},"axis":{"values":[0,0.2,0.4,0.6,0.8,1],"format":".1f","title":"Probability"}},"color":{"field":"e","type":"nominal","scale":{"domain":["low","high"],"range":["#000000","#d32f2f"]},"legend":null}}},
{"transform":[{"filter":"datum.c==1"}],"mark":{"type":"tick","orient":"vertical"},"encoding":{"x":{"field":"t","type":"quantitative","axis":{"orient":"top","title":"III","labels":false,"ticks":false,"domain":false,"titleFontSize":13,"titleFontWeight":"bold","titleColor":"#000","titlePadding":3,"titleFont":"Liberation Sans Narrow, Liberation Sans"}},"y":{"field":"p","type":"quantitative","axis":null},"color":{"field":"e","type":"nominal","legend":null}}},
{"transform":[{"filter":"isValid(datum.hr)"}],"mark":{"type":"text","align":"right","baseline":"top","lineBreak":"\n","dx":-3,"dy":3},"encoding":{"x":{"value":"width"},"y":{"value":0},"text":{"field":"hr"}}},
{"transform":[{"filter":"isValid(datum.hr)"}],"mark":{"type":"text","text":"Expression","align":"left","baseline":"middle"},"encoding":{"x":{"datum":2,"axis":null},"y":{"datum":0.115,"axis":null}}},
{"transform":[{"filter":"isValid(datum.hr)"}],"mark":{"type":"rule","color":"#000000"},"encoding":{"x":{"datum":3,"axis":null},"x2":{"datum":12},"y":{"datum":0.06,"axis":null}}},
{"transform":[{"filter":"isValid(datum.hr)"}],"mark":{"type":"rule","color":"#d32f2f"},"encoding":{"x":{"datum":3,"axis":null},"x2":{"datum":12},"y":{"datum":0.015,"axis":null}}},
{"transform":[{"filter":"isValid(datum.hr)"}],"mark":{"type":"text","text":"low","align":"left","baseline":"middle"},"encoding":{"x":{"datum":15,"axis":null},"y":{"datum":0.06,"axis":null}}},
{"transform":[{"filter":"isValid(datum.hr)"}],"mark":{"type":"text","text":"high","align":"left","baseline":"middle"},"encoding":{"x":{"datum":15,"axis":null},"y":{"datum":0.015,"axis":null}}},
{"transform":[{"filter":"isValid(datum.hr)"}],"mark":{"type":"text","text":"Number at risk","align":"left","baseline":"middle"},"encoding":{"x":{"datum":0,"axis":null},"y":{"datum":-0.223,"axis":null}}},
{"transform":[{"filter":"isValid(datum.hr)"}],"mark":{"type":"text","text":"low","align":"right","baseline":"middle","dx":-5},"encoding":{"x":{"datum":0,"axis":null},"y":{"datum":-0.261,"axis":null}}},
{"transform":[{"filter":"isValid(datum.hr)"}],"mark":{"type":"text","text":"high","align":"right","baseline":"middle","dx":-5,"color":"#d32f2f"},"encoding":{"x":{"datum":0,"axis":null},"y":{"datum":-0.313,"axis":null}}},
{"transform":[{"filter":"isValid(datum.lo)"}],"mark":{"type":"text","baseline":"middle"},"encoding":{"x":{"field":"t","type":"quantitative","axis":null},"y":{"datum":-0.261,"axis":null},"text":{"field":"lo"}}},
{"transform":[{"filter":"isValid(datum.hi)"}],"mark":{"type":"text","baseline":"middle","color":"#d32f2f"},"encoding":{"x":{"field":"t","type":"quantitative","axis":null},"y":{"datum":-0.313,"axis":null},"text":{"field":"hi"}}}
]}},
{"transform":[{"filter":"datum.s==4"}],"facet":{"row":{"field":"g","type":"ordinal","header":null}},"spacing":{"row":28},"resolve":{"axis":{"x":"independent"}},
"spec":{"width":150,"height":128,"resolve":{"axis":{"x":"independent"}},"layer":[
{"transform":[{"filter":"isValid(datum.p)"}],"mark":"line","encoding":{"x":{"field":"t","type":"quantitative","scale":{"domain":[0,124],"nice":false},"axis":{"orient":"bottom","values":[0,20,40,60,80,100,120],"title":"Time (months)"}},"y":{"field":"p","type":"quantitative","scale":{"domain":[-0.04,1.05],"nice":false},"axis":{"values":[0,0.2,0.4,0.6,0.8,1],"format":".1f","title":"Probability"}},"color":{"field":"e","type":"nominal","scale":{"domain":["low","high"],"range":["#000000","#d32f2f"]},"legend":null}}},
{"transform":[{"filter":"datum.c==1"}],"mark":{"type":"tick","orient":"vertical"},"encoding":{"x":{"field":"t","type":"quantitative","axis":{"orient":"top","title":"IV","labels":false,"ticks":false,"domain":false,"titleFontSize":13,"titleFontWeight":"bold","titleColor":"#000","titlePadding":3,"titleFont":"Liberation Sans Narrow, Liberation Sans"}},"y":{"field":"p","type":"quantitative","axis":null},"color":{"field":"e","type":"nominal","legend":null}}},
{"transform":[{"filter":"isValid(datum.hr)"}],"mark":{"type":"text","align":"right","baseline":"top","lineBreak":"\n","dx":-3,"dy":3},"encoding":{"x":{"value":"width"},"y":{"value":0},"text":{"field":"hr"}}},
{"transform":[{"filter":"isValid(datum.hr)"}],"mark":{"type":"text","text":"Expression","align":"left","baseline":"middle"},"encoding":{"x":{"datum":2,"axis":null},"y":{"datum":0.115,"axis":null}}},
{"transform":[{"filter":"isValid(datum.hr)"}],"mark":{"type":"rule","color":"#000000"},"encoding":{"x":{"datum":3,"axis":null},"x2":{"datum":12},"y":{"datum":0.06,"axis":null}}},
{"transform":[{"filter":"isValid(datum.hr)"}],"mark":{"type":"rule","color":"#d32f2f"},"encoding":{"x":{"datum":3,"axis":null},"x2":{"datum":12},"y":{"datum":0.015,"axis":null}}},
{"transform":[{"filter":"isValid(datum.hr)"}],"mark":{"type":"text","text":"low","align":"left","baseline":"middle"},"encoding":{"x":{"datum":15,"axis":null},"y":{"datum":0.06,"axis":null}}},
{"transform":[{"filter":"isValid(datum.hr)"}],"mark":{"type":"text","text":"high","align":"left","baseline":"middle"},"encoding":{"x":{"datum":15,"axis":null},"y":{"datum":0.015,"axis":null}}},
{"transform":[{"filter":"isValid(datum.hr)"}],"mark":{"type":"text","text":"Number at risk","align":"left","baseline":"middle"},"encoding":{"x":{"datum":0,"axis":null},"y":{"datum":-0.223,"axis":null}}},
{"transform":[{"filter":"isValid(datum.hr)"}],"mark":{"type":"text","text":"low","align":"right","baseline":"middle","dx":-5},"encoding":{"x":{"datum":0,"axis":null},"y":{"datum":-0.261,"axis":null}}},
{"transform":[{"filter":"isValid(datum.hr)"}],"mark":{"type":"text","text":"high","align":"right","baseline":"middle","dx":-5,"color":"#d32f2f"},"encoding":{"x":{"datum":0,"axis":null},"y":{"datum":-0.313,"axis":null}}},
{"transform":[{"filter":"isValid(datum.lo)"}],"mark":{"type":"text","baseline":"middle"},"encoding":{"x":{"field":"t","type":"quantitative","axis":null},"y":{"datum":-0.261,"axis":null},"text":{"field":"lo"}}},
{"transform":[{"filter":"isValid(datum.hi)"}],"mark":{"type":"text","baseline":"middle","color":"#d32f2f"},"encoding":{"x":{"field":"t","type":"quantitative","axis":null},"y":{"datum":-0.313,"axis":null},"text":{"field":"hi"}}}
]}}
]}
